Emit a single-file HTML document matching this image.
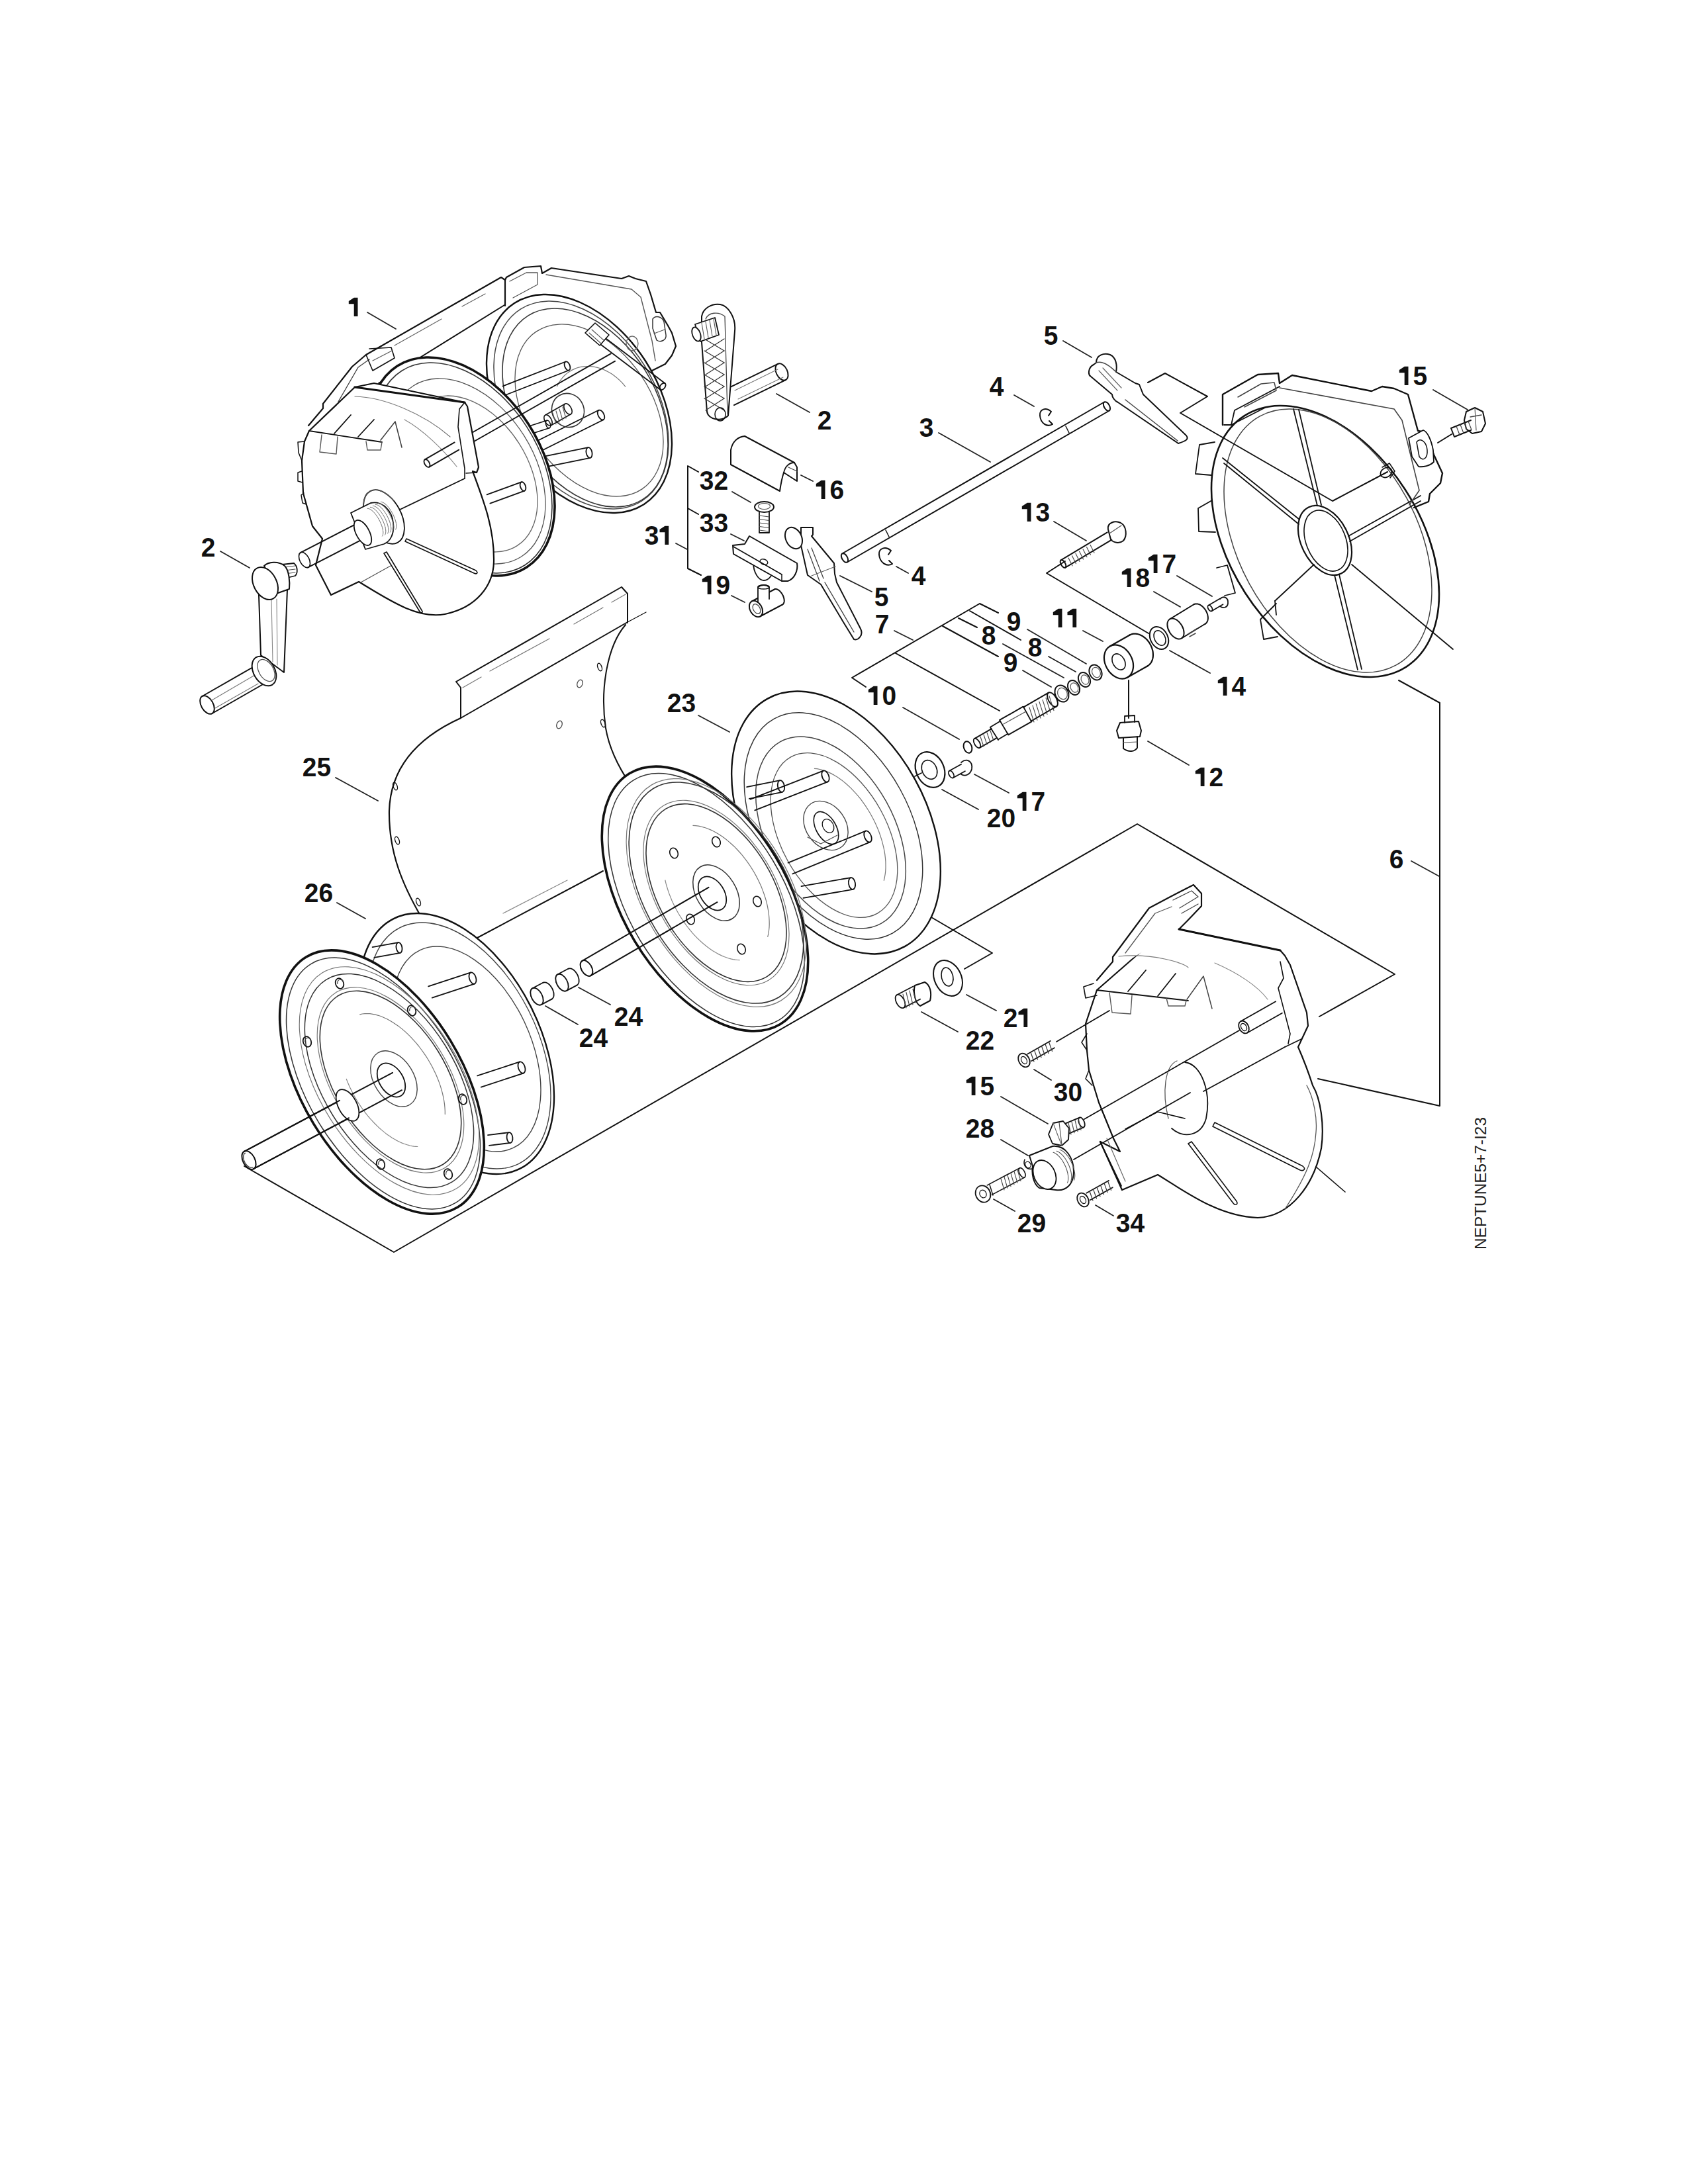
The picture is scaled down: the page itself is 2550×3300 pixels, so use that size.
<!DOCTYPE html>
<html><head><meta charset="utf-8"><style>
html,body{margin:0;padding:0;background:#fff;}
svg{display:block;}
.lb{font-family:"Liberation Sans",sans-serif;font-weight:bold;font-size:41px;fill:#111;}
</style></head><body>
<svg width="2550" height="3300" viewBox="0 0 2550 3300" stroke-linecap="round">
<rect width="2550" height="3300" fill="#fff"/>
<path d="M526.8,455.0 L534.8,449.7 L540.5,449.7 L540.5,478.0 L534.7,478.0 L534.7,459.3 L526.8,459.3 Z" fill="#111"/>
<text x="1299.8" y="649" class="lb" transform="scale(0.95,1)">2</text>
<text x="1659.8" y="521" class="lb" transform="scale(0.95,1)">5</text>
<text x="1573.5" y="598" class="lb" transform="scale(0.95,1)">4</text>
<path d="M2113.8,559.0 L2121.8,553.7 L2127.5,553.7 L2127.5,582.0 L2121.7,582.0 L2121.7,563.3 L2113.8,563.3 Z" fill="#111"/>
<text x="2246.8" y="582" class="lb" transform="scale(0.95,1)">5</text>
<text x="1461.9" y="660" class="lb" transform="scale(0.95,1)">3</text>
<text x="1112.4" y="740" class="lb" transform="scale(0.95,1)">3</text>
<text x="1135.2" y="740" class="lb" transform="scale(0.95,1)">2</text>
<path d="M1232.8,731.0 L1240.8,725.7 L1246.5,725.7 L1246.5,754.0 L1240.7,754.0 L1240.7,735.3 L1232.8,735.3 Z" fill="#111"/>
<text x="1319.4" y="754" class="lb" transform="scale(0.95,1)">6</text>
<path d="M1543.8,765.0 L1551.8,759.7 L1557.5,759.7 L1557.5,788.0 L1551.7,788.0 L1551.7,769.3 L1543.8,769.3 Z" fill="#111"/>
<text x="1646.8" y="788" class="lb" transform="scale(0.95,1)">3</text>
<text x="1112.4" y="804" class="lb" transform="scale(0.95,1)">3</text>
<text x="1135.2" y="804" class="lb" transform="scale(0.95,1)">3</text>
<text x="1025.1" y="823" class="lb" transform="scale(0.95,1)">3</text>
<path d="M996.5,800.0 L1004.5,794.7 L1010.2,794.7 L1010.2,823.0 L1004.4,823.0 L1004.4,804.3 L996.5,804.3 Z" fill="#111"/>
<text x="319.8" y="841" class="lb" transform="scale(0.95,1)">2</text>
<text x="1449.3" y="884" class="lb" transform="scale(0.95,1)">4</text>
<path d="M1734.8,843.0 L1742.8,837.7 L1748.5,837.7 L1748.5,866.0 L1742.7,866.0 L1742.7,847.3 L1734.8,847.3 Z" fill="#111"/>
<text x="1847.9" y="866" class="lb" transform="scale(0.95,1)">7</text>
<path d="M1694.8,864.0 L1702.8,858.7 L1708.5,858.7 L1708.5,887.0 L1702.7,887.0 L1702.7,868.3 L1694.8,868.3 Z" fill="#111"/>
<text x="1805.7" y="887" class="lb" transform="scale(0.95,1)">8</text>
<path d="M1060.8,875.0 L1068.8,869.7 L1074.5,869.7 L1074.5,898.0 L1068.7,898.0 L1068.7,879.3 L1060.8,879.3 Z" fill="#111"/>
<text x="1138.4" y="898" class="lb" transform="scale(0.95,1)">9</text>
<text x="1390.3" y="916" class="lb" transform="scale(0.95,1)">5</text>
<text x="1600.8" y="953" class="lb" transform="scale(0.95,1)">9</text>
<path d="M1590.8,925.0 L1598.8,919.7 L1604.5,919.7 L1604.5,948.0 L1598.7,948.0 L1598.7,929.3 L1590.8,929.3 Z" fill="#111"/>
<path d="M1612.5,925.0 L1620.5,919.7 L1626.2,919.7 L1626.2,948.0 L1620.4,948.0 L1620.4,929.3 L1612.5,929.3 Z" fill="#111"/>
<text x="1391.4" y="957" class="lb" transform="scale(0.95,1)">7</text>
<text x="1560.8" y="974" class="lb" transform="scale(0.95,1)">8</text>
<text x="1634.5" y="992" class="lb" transform="scale(0.95,1)">8</text>
<text x="1595.6" y="1015" class="lb" transform="scale(0.95,1)">9</text>
<path d="M1839.8,1028.0 L1847.8,1022.7 L1853.5,1022.7 L1853.5,1051.0 L1847.7,1051.0 L1847.7,1032.3 L1839.8,1032.3 Z" fill="#111"/>
<text x="1958.4" y="1051" class="lb" transform="scale(0.95,1)">4</text>
<path d="M1311.8,1042.0 L1319.8,1036.7 L1325.5,1036.7 L1325.5,1065.0 L1319.7,1065.0 L1319.7,1046.3 L1311.8,1046.3 Z" fill="#111"/>
<text x="1402.6" y="1065" class="lb" transform="scale(0.95,1)">0</text>
<text x="1060.8" y="1076" class="lb" transform="scale(0.95,1)">2</text>
<text x="1083.6" y="1076" class="lb" transform="scale(0.95,1)">3</text>
<text x="480.8" y="1173" class="lb" transform="scale(0.95,1)">2</text>
<text x="503.6" y="1173" class="lb" transform="scale(0.95,1)">5</text>
<path d="M1805.8,1165.0 L1813.8,1159.7 L1819.5,1159.7 L1819.5,1188.0 L1813.7,1188.0 L1813.7,1169.3 L1805.8,1169.3 Z" fill="#111"/>
<text x="1922.6" y="1188" class="lb" transform="scale(0.95,1)">2</text>
<path d="M1536.8,1202.0 L1544.8,1196.7 L1550.5,1196.7 L1550.5,1225.0 L1544.7,1225.0 L1544.7,1206.3 L1536.8,1206.3 Z" fill="#111"/>
<text x="1639.4" y="1225" class="lb" transform="scale(0.95,1)">7</text>
<text x="1569.3" y="1250" class="lb" transform="scale(0.95,1)">2</text>
<text x="1592.1" y="1250" class="lb" transform="scale(0.95,1)">0</text>
<text x="2209.3" y="1312" class="lb" transform="scale(0.95,1)">6</text>
<text x="484.0" y="1363" class="lb" transform="scale(0.95,1)">2</text>
<text x="506.8" y="1363" class="lb" transform="scale(0.95,1)">6</text>
<text x="976.6" y="1550" class="lb" transform="scale(0.95,1)">2</text>
<text x="999.4" y="1550" class="lb" transform="scale(0.95,1)">4</text>
<text x="1595.6" y="1552" class="lb" transform="scale(0.95,1)">2</text>
<path d="M1538.5,1529.0 L1546.5,1523.7 L1552.2,1523.7 L1552.2,1552.0 L1546.4,1552.0 L1546.4,1533.3 L1538.5,1533.3 Z" fill="#111"/>
<text x="920.8" y="1582" class="lb" transform="scale(0.95,1)">2</text>
<text x="943.6" y="1582" class="lb" transform="scale(0.95,1)">4</text>
<text x="1535.6" y="1586" class="lb" transform="scale(0.95,1)">2</text>
<text x="1558.4" y="1586" class="lb" transform="scale(0.95,1)">2</text>
<path d="M1459.8,1632.0 L1467.8,1626.7 L1473.5,1626.7 L1473.5,1655.0 L1467.7,1655.0 L1467.7,1636.3 L1459.8,1636.3 Z" fill="#111"/>
<text x="1558.4" y="1655" class="lb" transform="scale(0.95,1)">5</text>
<text x="1675.6" y="1664" class="lb" transform="scale(0.95,1)">3</text>
<text x="1698.4" y="1664" class="lb" transform="scale(0.95,1)">0</text>
<text x="1535.6" y="1719" class="lb" transform="scale(0.95,1)">2</text>
<text x="1558.4" y="1719" class="lb" transform="scale(0.95,1)">8</text>
<text x="1617.7" y="1862" class="lb" transform="scale(0.95,1)">2</text>
<text x="1640.5" y="1862" class="lb" transform="scale(0.95,1)">9</text>
<text x="1774.5" y="1862" class="lb" transform="scale(0.95,1)">3</text>
<text x="1797.3" y="1862" class="lb" transform="scale(0.95,1)">4</text>
<text x="2245" y="1888" transform="rotate(-90 2245 1888)" style="font-family:'Liberation Sans',sans-serif;font-size:24.4px;fill:#222">NEPTUNE5+7-I23</text>
<line x1="555" y1="472" x2="598" y2="497" stroke="#222" stroke-width="1.8"/>
<line x1="1173" y1="595" x2="1223" y2="623" stroke="#222" stroke-width="1.8"/>
<line x1="1606" y1="515" x2="1649" y2="540" stroke="#222" stroke-width="1.8"/>
<line x1="1532" y1="597" x2="1562" y2="614" stroke="#222" stroke-width="1.8"/>
<line x1="2165" y1="589" x2="2217" y2="619" stroke="#222" stroke-width="1.8"/>
<line x1="1418" y1="654" x2="1496" y2="698" stroke="#222" stroke-width="1.8"/>
<line x1="1106" y1="743" x2="1134" y2="759" stroke="#222" stroke-width="1.8"/>
<line x1="1210" y1="718" x2="1228" y2="727" stroke="#222" stroke-width="1.8"/>
<line x1="1592" y1="788" x2="1641" y2="817" stroke="#222" stroke-width="1.8"/>
<line x1="1104" y1="807" x2="1124" y2="817" stroke="#222" stroke-width="1.8"/>
<line x1="1021" y1="821" x2="1038" y2="830" stroke="#222" stroke-width="1.8"/>
<line x1="333" y1="833" x2="377" y2="858" stroke="#222" stroke-width="1.8"/>
<line x1="1354" y1="856" x2="1372" y2="866" stroke="#222" stroke-width="1.8"/>
<line x1="1778" y1="870" x2="1831" y2="901" stroke="#222" stroke-width="1.8"/>
<line x1="1743" y1="894" x2="1783" y2="917" stroke="#222" stroke-width="1.8"/>
<line x1="1105" y1="900" x2="1125" y2="910" stroke="#222" stroke-width="1.8"/>
<line x1="1269" y1="870" x2="1317" y2="894" stroke="#222" stroke-width="1.8"/>
<line x1="1351" y1="953" x2="1379" y2="967" stroke="#222" stroke-width="1.8"/>
<line x1="1552" y1="951" x2="1641" y2="1003" stroke="#222" stroke-width="1.8"/>
<line x1="1584" y1="992" x2="1625" y2="1015" stroke="#222" stroke-width="1.8"/>
<line x1="1515" y1="973" x2="1607" y2="1024" stroke="#222" stroke-width="1.8"/>
<line x1="1545" y1="1013" x2="1588" y2="1038" stroke="#222" stroke-width="1.8"/>
<line x1="1636" y1="953" x2="1666" y2="969" stroke="#222" stroke-width="1.8"/>
<line x1="1767" y1="983" x2="1828" y2="1017" stroke="#222" stroke-width="1.8"/>
<line x1="1364" y1="1069" x2="1449" y2="1117" stroke="#222" stroke-width="1.8"/>
<line x1="1055" y1="1081" x2="1102" y2="1106" stroke="#222" stroke-width="1.8"/>
<line x1="507" y1="1175" x2="571" y2="1210" stroke="#222" stroke-width="1.8"/>
<line x1="1734" y1="1120" x2="1796" y2="1156" stroke="#222" stroke-width="1.8"/>
<line x1="1472" y1="1170" x2="1524" y2="1198" stroke="#222" stroke-width="1.8"/>
<line x1="1423" y1="1193" x2="1478" y2="1223" stroke="#222" stroke-width="1.8"/>
<line x1="2132" y1="1301" x2="2174" y2="1324" stroke="#222" stroke-width="1.8"/>
<line x1="509" y1="1364" x2="552" y2="1388" stroke="#222" stroke-width="1.8"/>
<line x1="874" y1="1492" x2="922" y2="1518" stroke="#222" stroke-width="1.8"/>
<line x1="824" y1="1520" x2="873" y2="1548" stroke="#222" stroke-width="1.8"/>
<line x1="1460" y1="1503" x2="1505" y2="1527" stroke="#222" stroke-width="1.8"/>
<line x1="1392" y1="1529" x2="1447" y2="1559" stroke="#222" stroke-width="1.8"/>
<line x1="1562" y1="1616" x2="1588" y2="1632" stroke="#222" stroke-width="1.8"/>
<line x1="1512" y1="1657" x2="1583" y2="1698" stroke="#222" stroke-width="1.8"/>
<line x1="1512" y1="1722" x2="1553" y2="1746" stroke="#222" stroke-width="1.8"/>
<line x1="1501" y1="1812" x2="1533" y2="1830" stroke="#222" stroke-width="1.8"/>
<line x1="1655" y1="1821" x2="1682" y2="1837" stroke="#222" stroke-width="1.8"/>
<polyline points="1055,713 1039,704 1039,859 1059,869" fill="none" stroke="#111" stroke-width="2" stroke-linejoin="round"/>
<line x1="1039" y1="768" x2="1055" y2="777" stroke="#111" stroke-width="2"/>
<polyline points="1508,926 1480,912 1287,1024 1308,1038" fill="none" stroke="#111" stroke-width="2" stroke-linejoin="round"/>
<line x1="1465" y1="923" x2="1542" y2="967" stroke="#111" stroke-width="2"/>
<line x1="1448" y1="934" x2="1476" y2="948" stroke="#111" stroke-width="2"/>
<line x1="1424" y1="946" x2="1508" y2="992" stroke="#111" stroke-width="2"/>
<line x1="1353" y1="987" x2="1510" y2="1074" stroke="#111" stroke-width="2"/>
<polyline points="2113,1028 2175,1062 2175,1671 1991,1630" fill="none" stroke="#111" stroke-width="2" stroke-linejoin="round"/>
<polyline points="369,1762 595,1892 1718,1245 2107,1472 1993,1536" fill="none" stroke="#111" stroke-width="2" stroke-linejoin="round"/>
<polyline points="1274,1308 1499,1440 1457,1464" fill="none" stroke="#111" stroke-width="2" stroke-linejoin="round"/>
<ellipse cx="1263" cy="1243" rx="214" ry="136" transform="rotate(61 1263 1243)" fill="#fff" stroke="#111" stroke-width="2.4" />
<ellipse cx="1259" cy="1248" rx="185" ry="115" transform="rotate(61 1259 1248)" fill="none" stroke="#333" stroke-width="1.5" />
<ellipse cx="1255" cy="1258" rx="157" ry="96" transform="rotate(61 1255 1258)" fill="none" stroke="#444" stroke-width="1.5" />
<ellipse cx="1260" cy="1262" rx="135" ry="80" transform="rotate(61 1260 1262)" fill="none" stroke="#555" stroke-width="1.3" />
<polyline points="1230.4,1161.3 1234.4,1161.7 1238.5,1162.5 1242.6,1163.6 1246.8,1164.9 1251.1,1166.6 1255.3,1168.6 1259.6,1170.9 1264.0,1173.5 1268.3,1176.4 1272.6,1179.6 1276.8,1183.0 1281.0,1186.7 1285.2,1190.6 1289.2,1194.8 1293.2,1199.1 1297.1,1203.7 1300.9,1208.4 1304.5,1213.4 1308.0,1218.4 1311.4,1223.7 1314.6,1229.0 1317.6,1234.5 1320.5,1240.0 1323.1,1245.6 1325.6,1251.3 1327.9,1257.0 1329.9,1262.7 1331.7,1268.4 1333.3,1274.1 1334.7,1279.8 1335.9,1285.4 1336.8,1290.9 1337.4,1296.3 1337.9,1301.6 1338.0,1306.8 1338.0,1311.9 1337.7,1316.7 1337.1,1321.5 1336.3,1326.0 1335.3,1330.3" fill="none" stroke="#777" stroke-width="1.2" stroke-linejoin="round"/>
<ellipse cx="1247.5" cy="1247.5" rx="40" ry="30" transform="rotate(55 1247.5 1247.5)" fill="none" stroke="#444" stroke-width="1.4" />
<ellipse cx="1248" cy="1251" rx="27" ry="15" transform="rotate(60 1248 1251)" fill="none" stroke="#111" stroke-width="1.6" />
<ellipse cx="1251" cy="1248" rx="11" ry="8" transform="rotate(60 1251 1248)" fill="none" stroke="#111" stroke-width="1.3" />
<polyline points="1220,1265 1240,1275 1265,1262" fill="none" stroke="#555" stroke-width="1.3" stroke-linejoin="round"/>
<line x1="1131.8" y1="1206.8" x2="1181.8" y2="1196.8" stroke="#111" stroke-width="1.8"/>
<line x1="1128.2" y1="1189.2" x2="1178.2" y2="1179.2" stroke="#111" stroke-width="1.8"/>
<ellipse cx="1180" cy="1188" rx="5.0" ry="9" transform="rotate(-11.3 1180 1188)" fill="none" stroke="#111" stroke-width="1.8" />
<line x1="1140.3" y1="1224.4" x2="1250.3" y2="1181.4" stroke="#111" stroke-width="1.8"/>
<line x1="1133.7" y1="1207.6" x2="1243.7" y2="1164.6" stroke="#111" stroke-width="1.8"/>
<ellipse cx="1247" cy="1173" rx="5.0" ry="9" transform="rotate(-21.4 1247 1173)" fill="none" stroke="#111" stroke-width="1.8" />
<line x1="1197.4" y1="1320.3" x2="1314.4" y2="1272.3" stroke="#111" stroke-width="1.8"/>
<line x1="1190.6" y1="1303.7" x2="1307.6" y2="1255.7" stroke="#111" stroke-width="1.8"/>
<ellipse cx="1311" cy="1264" rx="5.0" ry="9" transform="rotate(-22.3 1311 1264)" fill="none" stroke="#111" stroke-width="1.8" />
<line x1="1213.5" y1="1356.9" x2="1288.5" y2="1343.9" stroke="#111" stroke-width="1.8"/>
<line x1="1210.5" y1="1339.1" x2="1285.5" y2="1326.1" stroke="#111" stroke-width="1.8"/>
<ellipse cx="1287" cy="1335" rx="5.0" ry="9" transform="rotate(-9.8 1287 1335)" fill="none" stroke="#111" stroke-width="1.8" />
<polyline points="696,1085 696,1039 689,1030 939,887 948,897 948,941" fill="none" stroke="#111" stroke-width="2" stroke-linejoin="round"/>
<line x1="696" y1="1085" x2="948" y2="940" stroke="#111" stroke-width="2"/>
<line x1="948" y1="940" x2="976" y2="925" stroke="#111" stroke-width="1.3"/>
<line x1="740" y1="1014" x2="830" y2="965" stroke="#777" stroke-width="1.2"/>
<line x1="867" y1="943" x2="911" y2="918" stroke="#777" stroke-width="1.2"/>
<line x1="924" y1="910" x2="945" y2="898" stroke="#777" stroke-width="1.2"/>
<line x1="699" y1="1039" x2="727" y2="1023" stroke="#777" stroke-width="1.2"/>
<path d="M696,1085 C630,1115 590,1160 588,1225 C587,1290 610,1340 636,1385" fill="none" stroke="#111" stroke-width="2.2" stroke-linejoin="round" stroke-linecap="round"/>
<path d="M945,944 C918,975 906,1040 915,1100 C920,1130 935,1160 952,1185" fill="none" stroke="#111" stroke-width="2" stroke-linejoin="round" stroke-linecap="round"/>
<line x1="721" y1="1417" x2="911" y2="1316" stroke="#111" stroke-width="2"/>
<line x1="760" y1="1380" x2="857" y2="1330" stroke="#888" stroke-width="1.2"/>
<ellipse cx="597" cy="1188" rx="3" ry="6" transform="rotate(-20 597 1188)" fill="none" stroke="#111" stroke-width="1.4" />
<ellipse cx="600" cy="1270" rx="3" ry="6" transform="rotate(-20 600 1270)" fill="none" stroke="#111" stroke-width="1.4" />
<ellipse cx="632" cy="1363" rx="3" ry="6" transform="rotate(-20 632 1363)" fill="none" stroke="#111" stroke-width="1.4" />
<ellipse cx="906" cy="1008" rx="3" ry="6" transform="rotate(-20 906 1008)" fill="none" stroke="#111" stroke-width="1.4" />
<ellipse cx="911" cy="1093" rx="3" ry="6" transform="rotate(-20 911 1093)" fill="none" stroke="#111" stroke-width="1.4" />
<ellipse cx="876" cy="1033" rx="4" ry="6" transform="rotate(20 876 1033)" fill="none" stroke="#444" stroke-width="1.3" />
<ellipse cx="845" cy="1095" rx="4" ry="6" transform="rotate(20 845 1095)" fill="none" stroke="#444" stroke-width="1.3" />
<ellipse cx="1065" cy="1358" rx="221" ry="124" transform="rotate(59 1065 1358)" fill="#fff" stroke="#111" stroke-width="3.6" />
<ellipse cx="1067" cy="1360" rx="212" ry="117" transform="rotate(59 1067 1360)" fill="none" stroke="#333" stroke-width="1.5" />
<ellipse cx="1082" cy="1349" rx="190" ry="110" transform="rotate(59 1082 1349)" fill="none" stroke="#777" stroke-width="1.2" />
<ellipse cx="1082" cy="1349" rx="184" ry="107" transform="rotate(59 1082 1349)" fill="none" stroke="#333" stroke-width="1.6" />
<ellipse cx="1082" cy="1349" rx="154" ry="89" transform="rotate(59 1082 1349)" fill="none" stroke="#777" stroke-width="1.2" />
<ellipse cx="1082" cy="1349" rx="148" ry="86" transform="rotate(59 1082 1349)" fill="none" stroke="#333" stroke-width="1.6" />
<polyline points="1046.9,1247.3 1051.0,1247.6 1055.2,1248.1 1059.6,1249.0 1064.0,1250.3 1068.4,1251.8 1072.9,1253.6 1077.5,1255.8 1082.0,1258.2 1086.6,1261.0 1091.1,1264.0 1095.6,1267.3 1100.0,1270.9 1104.4,1274.7 1108.8,1278.7 1113.0,1283.0 1117.2,1287.5 1121.2,1292.2 1125.1,1297.1 1128.9,1302.1 1132.5,1307.3 1135.9,1312.6 1139.2,1318.0 1142.3,1323.6 1145.2,1329.2 1147.9,1334.9 1150.4,1340.6 1152.6,1346.4 1154.7,1352.2 1156.5,1357.9 1158.1,1363.6 1159.4,1369.3 1160.4,1374.9 1161.3,1380.5 1161.8,1385.9 1162.1,1391.2 1162.2,1396.4 1162.0,1401.4 1161.5,1406.3 1160.8,1410.9 1159.8,1415.4" fill="none" stroke="#777" stroke-width="1.2" stroke-linejoin="round"/>
<polyline points="1117.1,1450.7 1114.0,1450.5 1110.7,1450.2 1107.4,1449.6 1104.1,1448.9 1100.7,1448.0 1097.3,1446.8 1093.8,1445.5 1090.4,1444.1 1086.9,1442.4 1083.4,1440.6 1079.9,1438.5 1076.4,1436.4 1072.9,1434.0 1069.4,1431.5 1066.0,1428.8 1062.6,1426.0 1059.2,1423.0 1055.9,1419.9 1052.6,1416.7 1049.4,1413.3 1046.2,1409.8 1043.1,1406.2 1040.1,1402.5 1037.1,1398.6 1034.3,1394.7 1031.5,1390.7 1028.9,1386.6 1026.3,1382.5 1023.8,1378.3 1021.5,1374.0 1019.2,1369.7 1017.1,1365.3 1015.1,1360.9 1013.3,1356.5 1011.5,1352.1 1009.9,1347.6 1008.5,1343.2 1007.1,1338.8 1005.9,1334.4 1004.9,1330.0" fill="none" stroke="#888" stroke-width="1.2" stroke-linejoin="round"/>
<ellipse cx="1018" cy="1289" rx="6" ry="8" transform="rotate(-20 1018 1289)" fill="none" stroke="#111" stroke-width="1.6" />
<ellipse cx="1082" cy="1272" rx="6" ry="8" transform="rotate(-20 1082 1272)" fill="none" stroke="#111" stroke-width="1.6" />
<ellipse cx="1144" cy="1362" rx="6" ry="8" transform="rotate(-20 1144 1362)" fill="none" stroke="#111" stroke-width="1.6" />
<ellipse cx="1120" cy="1434" rx="6" ry="8" transform="rotate(-20 1120 1434)" fill="none" stroke="#111" stroke-width="1.6" />
<ellipse cx="1043" cy="1389" rx="6" ry="8" transform="rotate(-20 1043 1389)" fill="none" stroke="#111" stroke-width="1.6" />
<ellipse cx="1082" cy="1349" rx="46" ry="30" transform="rotate(58 1082 1349)" fill="none" stroke="#333" stroke-width="1.5" />
<ellipse cx="1076" cy="1350" rx="28" ry="18" transform="rotate(58 1076 1350)" fill="none" stroke="#111" stroke-width="1.7" />
<line x1="892.5" y1="1474.2" x2="1083.5" y2="1363.2" stroke="#111" stroke-width="2"/>
<line x1="879.5" y1="1451.8" x2="1070.5" y2="1340.8" stroke="#111" stroke-width="2"/>
<ellipse cx="886" cy="1463" rx="7.8" ry="13" transform="rotate(-30.2 886 1463)" fill="none" stroke="#111" stroke-width="2" />
<ellipse cx="690" cy="1577" rx="211.6" ry="125.1" transform="rotate(63.09 690 1577)" fill="#fff" stroke="#111" stroke-width="2.4"/>
<ellipse cx="694" cy="1580" rx="199.7" ry="117.3" transform="rotate(63.28 694 1580)" fill="none" stroke="#444" stroke-width="1.4"/>
<ellipse cx="705" cy="1585" rx="165.2" ry="96.3" transform="rotate(64.79 705 1585)" fill="none" stroke="#444" stroke-width="1.4"/>
<line x1="565.4" y1="1446.9" x2="604.4" y2="1439.9" stroke="#111" stroke-width="1.8"/>
<line x1="562.6" y1="1431.1" x2="601.6" y2="1424.1" stroke="#111" stroke-width="1.8"/>
<ellipse cx="603" cy="1432" rx="4.4" ry="8" transform="rotate(-10.2 603 1432)" fill="none" stroke="#111" stroke-width="1.8" />
<line x1="652.8" y1="1507.6" x2="716.8" y2="1486.6" stroke="#111" stroke-width="1.8"/>
<line x1="647.2" y1="1490.4" x2="711.2" y2="1469.4" stroke="#111" stroke-width="1.8"/>
<ellipse cx="714" cy="1478" rx="5.0" ry="9" transform="rotate(-18.2 714 1478)" fill="none" stroke="#111" stroke-width="1.8" />
<line x1="726.8" y1="1642.6" x2="790.8" y2="1621.6" stroke="#111" stroke-width="1.8"/>
<line x1="721.2" y1="1625.4" x2="785.2" y2="1604.4" stroke="#111" stroke-width="1.8"/>
<ellipse cx="788" cy="1613" rx="5.0" ry="9" transform="rotate(-18.2 788 1613)" fill="none" stroke="#111" stroke-width="1.8" />
<line x1="739.0" y1="1730.9" x2="771.0" y2="1726.9" stroke="#111" stroke-width="1.8"/>
<line x1="737.0" y1="1715.1" x2="769.0" y2="1711.1" stroke="#111" stroke-width="1.8"/>
<ellipse cx="770" cy="1719" rx="4.4" ry="8" transform="rotate(-7.1 770 1719)" fill="none" stroke="#111" stroke-width="1.8" />
<ellipse cx="577" cy="1635" rx="221" ry="121" transform="rotate(58.8 577 1635)" fill="#fff" stroke="#111" stroke-width="3.6" />
<ellipse cx="579" cy="1637" rx="211" ry="114" transform="rotate(58.8 579 1637)" fill="none" stroke="#333" stroke-width="1.5" />
<ellipse cx="588" cy="1633" rx="192" ry="106" transform="rotate(58 588 1633)" fill="none" stroke="#777" stroke-width="1.2" />
<ellipse cx="588" cy="1633" rx="180" ry="100" transform="rotate(58 588 1633)" fill="none" stroke="#333" stroke-width="1.5" />
<ellipse cx="590" cy="1632" rx="156" ry="87" transform="rotate(58 590 1632)" fill="none" stroke="#777" stroke-width="1.2" />
<ellipse cx="590" cy="1632" rx="150" ry="84" transform="rotate(58 590 1632)" fill="none" stroke="#333" stroke-width="1.6" />
<polyline points="543.7,1532.8 547.3,1532.0 551.0,1531.6 554.9,1531.5 558.9,1531.7 563.0,1532.3 567.2,1533.2 571.5,1534.3 575.9,1535.8 580.3,1537.7 584.8,1539.8 589.2,1542.2 593.7,1544.9 598.2,1547.9 602.7,1551.1 607.2,1554.6 611.6,1558.4 615.9,1562.4 620.2,1566.6 624.3,1571.1 628.4,1575.7 632.4,1580.5 636.2,1585.5 639.9,1590.6 643.5,1595.9 646.9,1601.2 650.1,1606.7 653.1,1612.3 655.9,1617.9 658.6,1623.5 661.0,1629.2 663.2,1634.9 665.2,1640.6 666.9,1646.3 668.4,1651.9 669.7,1657.5 670.7,1662.9 671.5,1668.3 672.0,1673.5 672.3,1678.7 672.3,1683.6" fill="none" stroke="#777" stroke-width="1.2" stroke-linejoin="round"/>
<polyline points="630.8,1732.5 628.0,1732.3 625.2,1732.1 622.3,1731.6 619.4,1731.0 616.5,1730.2 613.5,1729.3 610.4,1728.3 607.4,1727.1 604.3,1725.7 601.2,1724.2 598.1,1722.6 595.0,1720.8 591.9,1718.9 588.8,1716.8 585.7,1714.7 582.6,1712.4 579.5,1709.9 576.5,1707.4 573.4,1704.7 570.4,1701.9 567.5,1699.0 564.5,1696.0 561.7,1692.9 558.8,1689.8 556.0,1686.5 553.3,1683.1 550.6,1679.7 548.0,1676.2 545.5,1672.6 543.1,1669.0 540.7,1665.3 538.4,1661.5 536.2,1657.7 534.0,1653.9 532.0,1650.0 530.1,1646.1 528.2,1642.2 526.5,1638.3 524.8,1634.3 523.3,1630.4" fill="none" stroke="#888" stroke-width="1.2" stroke-linejoin="round"/>
<ellipse cx="513" cy="1486" rx="6" ry="8" transform="rotate(-20 513 1486)" fill="none" stroke="#111" stroke-width="1.8" />
<polyline points="509.8,1486.4 509.7,1485.9 509.7,1485.5 509.7,1485.1 509.8,1484.7 509.8,1484.4 509.9,1484.0 510.0,1483.6 510.1,1483.3 510.2,1482.9 510.3,1482.6 510.5,1482.3 510.7,1482.0 510.9,1481.7 511.1,1481.5 511.3,1481.2 511.5,1481.0 511.8,1480.8 512.1,1480.7 512.3,1480.5 512.6,1480.4 512.9,1480.3 513.2,1480.3 513.5,1480.2 513.8,1480.2 514.1,1480.2 514.4,1480.2 514.8,1480.3 515.1,1480.4 515.4,1480.5 515.7,1480.6 516.1,1480.8 516.4,1481.0 516.7,1481.2 517.0,1481.4 517.3,1481.6 517.6,1481.9 517.8,1482.2 518.1,1482.5 518.4,1482.8 518.6,1483.1" fill="none" stroke="#444" stroke-width="1.2" stroke-linejoin="round"/>
<ellipse cx="464" cy="1574" rx="6" ry="8" transform="rotate(-20 464 1574)" fill="none" stroke="#111" stroke-width="1.8" />
<polyline points="460.8,1574.4 460.7,1573.9 460.7,1573.5 460.7,1573.1 460.8,1572.7 460.8,1572.4 460.9,1572.0 461.0,1571.6 461.1,1571.3 461.2,1570.9 461.3,1570.6 461.5,1570.3 461.7,1570.0 461.9,1569.7 462.1,1569.5 462.3,1569.2 462.5,1569.0 462.8,1568.8 463.1,1568.7 463.3,1568.5 463.6,1568.4 463.9,1568.3 464.2,1568.3 464.5,1568.2 464.8,1568.2 465.1,1568.2 465.4,1568.2 465.8,1568.3 466.1,1568.4 466.4,1568.5 466.7,1568.6 467.1,1568.8 467.4,1569.0 467.7,1569.2 468.0,1569.4 468.3,1569.6 468.6,1569.9 468.8,1570.2 469.1,1570.5 469.4,1570.8 469.6,1571.1" fill="none" stroke="#444" stroke-width="1.2" stroke-linejoin="round"/>
<ellipse cx="622" cy="1527" rx="6" ry="8" transform="rotate(-20 622 1527)" fill="none" stroke="#111" stroke-width="1.8" />
<polyline points="618.8,1527.4 618.7,1526.9 618.7,1526.5 618.7,1526.1 618.8,1525.7 618.8,1525.4 618.9,1525.0 619.0,1524.6 619.1,1524.3 619.2,1523.9 619.3,1523.6 619.5,1523.3 619.7,1523.0 619.9,1522.7 620.1,1522.5 620.3,1522.2 620.5,1522.0 620.8,1521.8 621.1,1521.7 621.3,1521.5 621.6,1521.4 621.9,1521.3 622.2,1521.3 622.5,1521.2 622.8,1521.2 623.1,1521.2 623.4,1521.2 623.8,1521.3 624.1,1521.4 624.4,1521.5 624.7,1521.6 625.1,1521.8 625.4,1522.0 625.7,1522.2 626.0,1522.4 626.3,1522.6 626.6,1522.9 626.8,1523.2 627.1,1523.5 627.4,1523.8 627.6,1524.1" fill="none" stroke="#444" stroke-width="1.2" stroke-linejoin="round"/>
<ellipse cx="699" cy="1661" rx="6" ry="8" transform="rotate(-20 699 1661)" fill="none" stroke="#111" stroke-width="1.8" />
<polyline points="695.8,1661.4 695.7,1660.9 695.7,1660.5 695.7,1660.1 695.8,1659.7 695.8,1659.4 695.9,1659.0 696.0,1658.6 696.1,1658.3 696.2,1657.9 696.3,1657.6 696.5,1657.3 696.7,1657.0 696.9,1656.7 697.1,1656.5 697.3,1656.2 697.5,1656.0 697.8,1655.8 698.1,1655.7 698.3,1655.5 698.6,1655.4 698.9,1655.3 699.2,1655.3 699.5,1655.2 699.8,1655.2 700.1,1655.2 700.4,1655.2 700.8,1655.3 701.1,1655.4 701.4,1655.5 701.7,1655.6 702.1,1655.8 702.4,1656.0 702.7,1656.2 703.0,1656.4 703.3,1656.6 703.6,1656.9 703.8,1657.2 704.1,1657.5 704.4,1657.8 704.6,1658.1" fill="none" stroke="#444" stroke-width="1.2" stroke-linejoin="round"/>
<ellipse cx="575" cy="1759" rx="6" ry="8" transform="rotate(-20 575 1759)" fill="none" stroke="#111" stroke-width="1.8" />
<polyline points="571.8,1759.4 571.7,1758.9 571.7,1758.5 571.7,1758.1 571.8,1757.7 571.8,1757.4 571.9,1757.0 572.0,1756.6 572.1,1756.3 572.2,1755.9 572.3,1755.6 572.5,1755.3 572.7,1755.0 572.9,1754.7 573.1,1754.5 573.3,1754.2 573.5,1754.0 573.8,1753.8 574.1,1753.7 574.3,1753.5 574.6,1753.4 574.9,1753.3 575.2,1753.3 575.5,1753.2 575.8,1753.2 576.1,1753.2 576.4,1753.2 576.8,1753.3 577.1,1753.4 577.4,1753.5 577.7,1753.6 578.1,1753.8 578.4,1754.0 578.7,1754.2 579.0,1754.4 579.3,1754.6 579.6,1754.9 579.8,1755.2 580.1,1755.5 580.4,1755.8 580.6,1756.1" fill="none" stroke="#444" stroke-width="1.2" stroke-linejoin="round"/>
<ellipse cx="677" cy="1774" rx="6" ry="8" transform="rotate(-20 677 1774)" fill="none" stroke="#111" stroke-width="1.8" />
<polyline points="673.8,1774.4 673.7,1773.9 673.7,1773.5 673.7,1773.1 673.8,1772.7 673.8,1772.4 673.9,1772.0 674.0,1771.6 674.1,1771.3 674.2,1770.9 674.3,1770.6 674.5,1770.3 674.7,1770.0 674.9,1769.7 675.1,1769.5 675.3,1769.2 675.5,1769.0 675.8,1768.8 676.1,1768.7 676.3,1768.5 676.6,1768.4 676.9,1768.3 677.2,1768.3 677.5,1768.2 677.8,1768.2 678.1,1768.2 678.4,1768.2 678.8,1768.3 679.1,1768.4 679.4,1768.5 679.7,1768.6 680.1,1768.8 680.4,1769.0 680.7,1769.2 681.0,1769.4 681.3,1769.6 681.6,1769.9 681.8,1770.2 682.1,1770.5 682.4,1770.8 682.6,1771.1" fill="none" stroke="#444" stroke-width="1.2" stroke-linejoin="round"/>
<ellipse cx="595" cy="1630" rx="46" ry="30" transform="rotate(58 595 1630)" fill="none" stroke="#444" stroke-width="1.4" />
<ellipse cx="591" cy="1632" rx="28" ry="18" transform="rotate(58 591 1632)" fill="none" stroke="#111" stroke-width="1.8" />
<line x1="383.0" y1="1766.2" x2="607.0" y2="1647.2" stroke="#111" stroke-width="2"/>
<line x1="369.0" y1="1739.8" x2="593.0" y2="1620.8" stroke="#111" stroke-width="2"/>
<ellipse cx="376" cy="1753" rx="9.0" ry="15" transform="rotate(-28.0 376 1753)" fill="none" stroke="#111" stroke-width="2" />
<ellipse cx="525" cy="1670" rx="14" ry="26" transform="rotate(-28 525 1670)" fill="#fff" stroke="#111" stroke-width="1.8" />
<line x1="383.1" y1="1766.2" x2="527.1" y2="1689.2" stroke="#111" stroke-width="2"/>
<line x1="368.9" y1="1739.8" x2="512.9" y2="1662.8" stroke="#111" stroke-width="2"/>
<polyline points="381.6,1763.6 381.1,1763.8 380.6,1764.0 380.0,1764.1 379.4,1764.1 378.8,1764.0 378.2,1763.9 377.6,1763.8 376.9,1763.5 376.3,1763.2 375.6,1762.8 375.0,1762.4 374.3,1761.9 373.7,1761.3 373.1,1760.7 372.4,1760.1 371.9,1759.4 371.3,1758.7 370.8,1757.9 370.3,1757.1 369.8,1756.3 369.4,1755.4 369.0,1754.6 368.7,1753.7 368.4,1752.9 368.1,1752.0 367.9,1751.1 367.8,1750.3 367.7,1749.4 367.6,1748.6 367.6,1747.8 367.7,1747.1 367.8,1746.4 368.0,1745.7 368.2,1745.1 368.4,1744.5 368.7,1743.9 369.1,1743.5 369.5,1743.0 369.9,1742.7 370.4,1742.4" fill="none" stroke="#444" stroke-width="1.4" stroke-linejoin="round"/>
<ellipse cx="2002" cy="818" rx="225.6" ry="143.9" transform="rotate(57.16 2002 818)" fill="none" stroke="#111" stroke-width="2.6"/>
<ellipse cx="2006" cy="817" rx="214.3" ry="135.3" transform="rotate(61.38 2006 817)" fill="none" stroke="#444" stroke-width="1.5"/>
<ellipse cx="2001.5" cy="816.5" rx="55.8" ry="35.8" transform="rotate(63.7 2001.5 816.5)" fill="none" stroke="#111" stroke-width="2.2" />
<ellipse cx="2003" cy="817" rx="48.1" ry="29.8" transform="rotate(68.0 2003 817)" fill="none" stroke="#111" stroke-width="1.6" />
<line x1="1954" y1="618" x2="1990" y2="764" stroke="#111" stroke-width="1.8"/>
<line x1="1962" y1="619" x2="1996" y2="763" stroke="#111" stroke-width="1.8"/>
<line x1="1847" y1="692" x2="1963" y2="785" stroke="#111" stroke-width="1.8"/>
<line x1="1849" y1="700" x2="1962" y2="792" stroke="#111" stroke-width="1.8"/>
<line x1="2037" y1="810" x2="2146" y2="749" stroke="#111" stroke-width="1.8"/>
<line x1="2039" y1="818" x2="2146" y2="757" stroke="#111" stroke-width="1.8"/>
<line x1="1985" y1="853" x2="1926" y2="908" stroke="#111" stroke-width="1.8"/>
<line x1="2016" y1="869" x2="2051" y2="1012" stroke="#111" stroke-width="1.8"/>
<line x1="2023" y1="868" x2="2057" y2="1011" stroke="#111" stroke-width="1.8"/>
<line x1="2042" y1="853" x2="2195" y2="981" stroke="#111" stroke-width="1.8"/>
<line x1="1926" y1="908" x2="1928" y2="929" stroke="#111" stroke-width="1.8"/>
<polyline points="1847,642 1847,596 1900,566 1931,564 1933,579 1952,567 2072,591 2088,584 2106,587 2127,596 2142,651 2153,653 2166,687 2179,715 2176,730 2160,746 2158,758 2136,767" fill="none" stroke="#111" stroke-width="2.4" stroke-linejoin="round"/>
<polyline points="1860,642 1911,616" fill="none" stroke="#111" stroke-width="1.8" stroke-linejoin="round"/>
<polyline points="1933,586 2106,618 2118,635 2144,741 2129,763" fill="none" stroke="#444" stroke-width="1.6" stroke-linejoin="round"/>
<polyline points="1849,642 1860,642 1865,620 1933,584" fill="none" stroke="#111" stroke-width="1.8" stroke-linejoin="round"/>
<polyline points="1870,600 1905,580 1925,578 1928,590 1880,615" fill="none" stroke="#444" stroke-width="1.5" stroke-linejoin="round"/>
<path d="M2128,662 L2150,650 C2156,652 2162,664 2165,680 L2166,698 C2160,704 2150,706 2143,705 L2133,690 Z" fill="#fff" stroke="#111" stroke-width="1.8" stroke-linejoin="round" stroke-linecap="round"/>
<path d="M2140,668 C2146,660 2155,668 2156,680 C2157,692 2150,698 2144,690 Z" fill="none" stroke="#111" stroke-width="1.5" stroke-linejoin="round" stroke-linecap="round"/>
<polyline points="1835,668 1812,672 1806,716 1830,718" fill="none" stroke="#111" stroke-width="1.8" stroke-linejoin="round"/>
<polyline points="1831,756 1810,768 1811,803 1836,804" fill="none" stroke="#111" stroke-width="1.8" stroke-linejoin="round"/>
<polyline points="1838,858 1854,854 1866,896 1850,900" fill="none" stroke="#111" stroke-width="1.8" stroke-linejoin="round"/>
<polyline points="1928,912 1904,936 1909,966 1930,962" fill="none" stroke="#111" stroke-width="1.8" stroke-linejoin="round"/>
<ellipse cx="2094" cy="714" rx="9" ry="7" transform="rotate(-30 2094 714)" fill="none" stroke="#111" stroke-width="1.8" />
<polyline points="2088,706 2099,700 2107,712 2100,722" fill="none" stroke="#111" stroke-width="1.5" stroke-linejoin="round"/>
<polyline points="1734,578 1760,564 1824,599 1783,624 2013,757 2096,713" fill="none" stroke="#111" stroke-width="2" stroke-linejoin="round"/>
<line x1="1279.8" y1="849.5" x2="1675.8" y2="620.5" stroke="#111" stroke-width="2"/>
<line x1="1272.2" y1="836.5" x2="1668.2" y2="607.5" stroke="#111" stroke-width="2"/>
<ellipse cx="1276" cy="843" rx="4.1" ry="7.5" transform="rotate(-30.0 1276 843)" fill="none" stroke="#111" stroke-width="2" />
<ellipse cx="1672" cy="614" rx="4.1" ry="7.5" transform="rotate(-30.0 1672 614)" fill="none" stroke="#111" stroke-width="2" />
<line x1="1338" y1="801" x2="1343" y2="811" stroke="#111" stroke-width="1.5"/>
<line x1="1610" y1="644" x2="1615" y2="654" stroke="#111" stroke-width="1.5"/>
<path d="M1588,622 C1580,615 1570,618 1571,628 C1572,640 1582,646 1590,641 M1588,622 L1584,628 M1590,641 L1585,636" fill="none" stroke="#111" stroke-width="2" stroke-linejoin="round" stroke-linecap="round"/>
<path d="M1346,832 C1338,825 1327,828 1328,838 C1329,850 1339,857 1348,852 M1346,832 L1342,838 M1348,852 L1343,847" fill="none" stroke="#111" stroke-width="2" stroke-linejoin="round" stroke-linecap="round"/>
<path d="M1656,548 C1656,536 1668,533 1677,536 C1686,540 1688,552 1686,562 L1715,579 L1721,581 L1727,596 L1792,658 C1796,663 1793,666 1780,670 L1689,608 C1684,606 1680,600 1680,596 L1648,569 C1643,566 1644,555 1652,551 Z" fill="none" stroke="#111" stroke-width="2" stroke-linejoin="round" stroke-linecap="round"/>
<line x1="1700" y1="604" x2="1779" y2="666" stroke="#444" stroke-width="1.5"/>
<path d="M1656,548 C1664,545 1674,550 1686,562" fill="none" stroke="#444" stroke-width="1.5" stroke-linejoin="round" stroke-linecap="round"/>
<line x1="1660" y1="560" x2="1688" y2="590" stroke="#666" stroke-width="1.2"/>
<line x1="1666" y1="556" x2="1694" y2="586" stroke="#666" stroke-width="1.2"/>
<path d="M2215,622 L2228,616 L2240,622 L2244,640 L2238,652 L2224,655 L2215,648 L2212,635 Z" fill="none" stroke="#111" stroke-width="2" stroke-linejoin="round" stroke-linecap="round"/>
<line x1="2221" y1="630" x2="2238" y2="627" stroke="#444" stroke-width="1.3"/>
<line x1="2228" y1="616" x2="2230" y2="650" stroke="#555" stroke-width="1.2"/>
<polyline points="2222,635 2192,647 2197,660 2222,650" fill="none" stroke="#111" stroke-width="2" stroke-linejoin="round"/>
<line x1="2200" y1="644.0" x2="2205" y2="657.0" stroke="#444" stroke-width="1.2"/>
<line x1="2206" y1="641.5" x2="2211" y2="654.5" stroke="#444" stroke-width="1.2"/>
<line x1="2212" y1="639.0" x2="2217" y2="652.0" stroke="#444" stroke-width="1.2"/>
<line x1="2218" y1="636.5" x2="2223" y2="649.5" stroke="#444" stroke-width="1.2"/>
<line x1="2172" y1="669" x2="2193" y2="656" stroke="#111" stroke-width="2"/>
<polyline points="1609,848 1581,866 1735,957" fill="none" stroke="#111" stroke-width="2" stroke-linejoin="round"/>
<path d="M1674,800 C1672,790 1684,786 1693,790 C1702,795 1703,810 1697,817 C1691,822 1682,820 1678,815 Z" fill="none" stroke="#111" stroke-width="2" stroke-linejoin="round" stroke-linecap="round"/>
<line x1="1676" y1="806" x2="1694" y2="794" stroke="#555" stroke-width="1.3"/>
<line x1="1609.3" y1="857.6" x2="1679.3" y2="815.6" stroke="#111" stroke-width="2"/>
<line x1="1602.7" y1="846.4" x2="1672.7" y2="804.4" stroke="#111" stroke-width="2"/>
<ellipse cx="1606" cy="852" rx="3.2" ry="6.5" transform="rotate(-31.0 1606 852)" fill="none" stroke="#111" stroke-width="2" />
<line x1="1614.0" y1="843.0" x2="1620.0" y2="855.0" stroke="#444" stroke-width="1.1"/>
<line x1="1619.5" y1="839.7" x2="1625.5" y2="851.7" stroke="#444" stroke-width="1.1"/>
<line x1="1625.0" y1="836.4" x2="1631.0" y2="848.4" stroke="#444" stroke-width="1.1"/>
<line x1="1630.5" y1="833.1" x2="1636.5" y2="845.1" stroke="#444" stroke-width="1.1"/>
<line x1="1636.0" y1="829.8" x2="1642.0" y2="841.8" stroke="#444" stroke-width="1.1"/>
<line x1="1641.5" y1="826.5" x2="1647.5" y2="838.5" stroke="#444" stroke-width="1.1"/>
<line x1="1647.0" y1="823.2" x2="1653.0" y2="835.2" stroke="#444" stroke-width="1.1"/>
<path d="M1843,905 C1848,900 1856,902 1855,912 C1854,918 1848,920 1843,916" fill="none" stroke="#111" stroke-width="1.8" stroke-linejoin="round" stroke-linecap="round"/>
<line x1="1830.5" y1="923.3" x2="1847.5" y2="913.3" stroke="#111" stroke-width="1.8"/>
<line x1="1825.5" y1="914.7" x2="1842.5" y2="904.7" stroke="#111" stroke-width="1.8"/>
<ellipse cx="1828" cy="919" rx="2.8" ry="5" transform="rotate(-30.5 1828 919)" fill="none" stroke="#111" stroke-width="1.8" />
<line x1="1784.9" y1="964.5" x2="1820.9" y2="942.5" stroke="#111" stroke-width="2"/>
<line x1="1767.1" y1="935.5" x2="1803.1" y2="913.5" stroke="#111" stroke-width="2"/>
<ellipse cx="1776" cy="950" rx="10.5" ry="17" transform="rotate(-31.4 1776 950)" fill="none" stroke="#111" stroke-width="2" />
<polyline points="1803.2,913.4 1804.0,913.0 1804.8,912.7 1805.7,912.5 1806.6,912.4 1807.5,912.4 1808.5,912.4 1809.5,912.6 1810.5,912.9 1811.5,913.2 1812.5,913.7 1813.5,914.2 1814.5,914.9 1815.5,915.6 1816.4,916.3 1817.4,917.2 1818.3,918.1 1819.1,919.1 1819.9,920.1 1820.7,921.2 1821.4,922.3 1822.1,923.5 1822.7,924.7 1823.2,925.9 1823.7,927.1 1824.1,928.3 1824.4,929.6 1824.6,930.8 1824.8,932.0 1824.9,933.2 1824.9,934.3 1824.8,935.4 1824.6,936.5 1824.4,937.5 1824.1,938.4 1823.7,939.3 1823.2,940.1 1822.7,940.8 1822.1,941.5 1821.5,942.1 1820.8,942.6" fill="none" stroke="#111" stroke-width="2" stroke-linejoin="round"/>
<line x1="1795" y1="958" x2="1808" y2="950" stroke="#444" stroke-width="1.5"/>
<line x1="1797" y1="962" x2="1806" y2="957" stroke="#444" stroke-width="1.5"/>
<ellipse cx="1751" cy="964" rx="13" ry="18" transform="rotate(-28 1751 964)" fill="none" stroke="#111" stroke-width="2" />
<ellipse cx="1752" cy="964" rx="8" ry="12" transform="rotate(-28 1752 964)" fill="none" stroke="#111" stroke-width="1.6" />
<line x1="1703.3" y1="1023.5" x2="1733.3" y2="1006.5" stroke="#111" stroke-width="2.2"/>
<line x1="1676.7" y1="976.5" x2="1706.7" y2="959.5" stroke="#111" stroke-width="2.2"/>
<ellipse cx="1690" cy="1000" rx="20.2" ry="27" transform="rotate(-29.5 1690 1000)" fill="none" stroke="#111" stroke-width="2.2" />
<polyline points="1706.5,959.6 1707.9,958.9 1709.4,958.3 1710.9,957.9 1712.5,957.7 1714.2,957.6 1715.8,957.6 1717.5,957.8 1719.3,958.2 1721.0,958.7 1722.7,959.4 1724.4,960.2 1726.1,961.2 1727.7,962.3 1729.3,963.5 1730.8,964.8 1732.3,966.3 1733.7,967.8 1735.0,969.5 1736.2,971.2 1737.3,973.0 1738.3,974.9 1739.2,976.8 1740.0,978.7 1740.6,980.7 1741.2,982.7 1741.6,984.7 1741.8,986.7 1741.9,988.7 1741.9,990.6 1741.8,992.5 1741.5,994.3 1741.1,996.0 1740.6,997.7 1739.9,999.3 1739.1,1000.8 1738.2,1002.1 1737.2,1003.4 1736.0,1004.5 1734.8,1005.5 1733.5,1006.4" fill="none" stroke="#111" stroke-width="2.2" stroke-linejoin="round"/>
<ellipse cx="1690" cy="1000" rx="9" ry="13" transform="rotate(-30 1690 1000)" fill="none" stroke="#111" stroke-width="1.6" />
<line x1="1705" y1="1028" x2="1705" y2="1085" stroke="#111" stroke-width="2"/>
<path d="M1692,1092 L1720,1090 L1724,1104 L1722,1113 L1690,1115 L1687,1104 Z" fill="none" stroke="#111" stroke-width="2" stroke-linejoin="round" stroke-linecap="round"/>
<path d="M1697,1115 L1697,1131 C1705,1137 1714,1136 1718,1130 L1718,1113" fill="none" stroke="#111" stroke-width="2" stroke-linejoin="round" stroke-linecap="round"/>
<path d="M1699,1092 L1699,1082 L1714,1081 L1714,1091" fill="none" stroke="#111" stroke-width="1.8" stroke-linejoin="round" stroke-linecap="round"/>
<line x1="1697" y1="1122" x2="1718" y2="1121" stroke="#555" stroke-width="1.2"/>
<ellipse cx="1655" cy="1016" rx="9" ry="12" transform="rotate(-25 1655 1016)" fill="none" stroke="#111" stroke-width="2" />
<ellipse cx="1656" cy="1016" rx="6" ry="8" transform="rotate(-25 1656 1016)" fill="none" stroke="#555" stroke-width="1.2" />
<ellipse cx="1638" cy="1027" rx="8.5" ry="11.5" transform="rotate(-25 1638 1027)" fill="none" stroke="#111" stroke-width="2" />
<ellipse cx="1639" cy="1027" rx="5.5" ry="7.5" transform="rotate(-25 1639 1027)" fill="none" stroke="#555" stroke-width="1.2" />
<ellipse cx="1622" cy="1039" rx="8.5" ry="11.5" transform="rotate(-25 1622 1039)" fill="none" stroke="#111" stroke-width="2" />
<ellipse cx="1623" cy="1039" rx="5.5" ry="7.5" transform="rotate(-25 1623 1039)" fill="none" stroke="#555" stroke-width="1.2" />
<ellipse cx="1604" cy="1048" rx="10" ry="13" transform="rotate(-25 1604 1048)" fill="none" stroke="#111" stroke-width="2" />
<ellipse cx="1605" cy="1048" rx="7" ry="9" transform="rotate(-25 1605 1048)" fill="none" stroke="#555" stroke-width="1.2" />
<line x1="1480.0" y1="1129.9" x2="1506.0" y2="1114.9" stroke="#111" stroke-width="1.8"/>
<line x1="1472.0" y1="1116.1" x2="1498.0" y2="1101.1" stroke="#111" stroke-width="1.8"/>
<ellipse cx="1476" cy="1123" rx="4.0" ry="8" transform="rotate(-30.0 1476 1123)" fill="none" stroke="#111" stroke-width="1.8" />
<line x1="1481" y1="1113" x2="1486" y2="1128" stroke="#444" stroke-width="1.1"/>
<line x1="1486" y1="1110" x2="1491" y2="1125" stroke="#444" stroke-width="1.1"/>
<line x1="1491" y1="1107" x2="1496" y2="1122" stroke="#444" stroke-width="1.1"/>
<line x1="1496" y1="1104" x2="1501" y2="1119" stroke="#444" stroke-width="1.1"/>
<line x1="1507.7" y1="1117.4" x2="1522.7" y2="1108.4" stroke="#111" stroke-width="1.8"/>
<line x1="1496.3" y1="1098.6" x2="1511.3" y2="1089.6" stroke="#111" stroke-width="1.8"/>
<polyline points="1496,1099 1508,1118" fill="none" stroke="#111" stroke-width="1.8" stroke-linejoin="round"/>
<line x1="1523.4" y1="1110.3" x2="1558.4" y2="1090.3" stroke="#111" stroke-width="2"/>
<line x1="1510.6" y1="1087.7" x2="1545.6" y2="1067.7" stroke="#111" stroke-width="2"/>
<polyline points="1510,1088 1523,1110" fill="none" stroke="#111" stroke-width="1.8" stroke-linejoin="round"/>
<polyline points="1546,1068 1558,1090" fill="none" stroke="#111" stroke-width="1.8" stroke-linejoin="round"/>
<line x1="1516" y1="1094" x2="1550" y2="1075" stroke="#555" stroke-width="1.2"/>
<line x1="1558.0" y1="1089.4" x2="1596.0" y2="1067.4" stroke="#111" stroke-width="2"/>
<line x1="1546.0" y1="1068.6" x2="1584.0" y2="1046.6" stroke="#111" stroke-width="2"/>
<ellipse cx="1590" cy="1057" rx="6.0" ry="12" transform="rotate(-30.1 1590 1057)" fill="none" stroke="#111" stroke-width="2" />
<line x1="1555" y1="1069.0" x2="1562" y2="1091.0" stroke="#444" stroke-width="1.1"/>
<line x1="1560" y1="1066.1" x2="1567" y2="1088.1" stroke="#444" stroke-width="1.1"/>
<line x1="1565" y1="1063.2" x2="1572" y2="1085.2" stroke="#444" stroke-width="1.1"/>
<line x1="1570" y1="1060.3" x2="1577" y2="1082.3" stroke="#444" stroke-width="1.1"/>
<line x1="1575" y1="1057.4" x2="1582" y2="1079.4" stroke="#444" stroke-width="1.1"/>
<line x1="1580" y1="1054.5" x2="1587" y2="1076.5" stroke="#444" stroke-width="1.1"/>
<line x1="1585" y1="1051.6" x2="1592" y2="1073.6" stroke="#444" stroke-width="1.1"/>
<ellipse cx="1462" cy="1129" rx="6" ry="9" transform="rotate(-20 1462 1129)" fill="none" stroke="#111" stroke-width="2" />
<ellipse cx="1405" cy="1163" rx="21" ry="28" transform="rotate(-25 1405 1163)" fill="none" stroke="#111" stroke-width="2.2" />
<ellipse cx="1404" cy="1163" rx="11" ry="15" transform="rotate(-25 1404 1163)" fill="none" stroke="#111" stroke-width="1.6" />
<line x1="1382" y1="1173" x2="1392" y2="1168" stroke="#111" stroke-width="1.8"/>
<path d="M1452,1152 C1460,1145 1470,1150 1468,1162 C1466,1170 1458,1174 1452,1170" fill="none" stroke="#111" stroke-width="1.8" stroke-linejoin="round" stroke-linecap="round"/>
<line x1="1439.9" y1="1175.2" x2="1457.9" y2="1165.2" stroke="#111" stroke-width="1.8"/>
<line x1="1434.1" y1="1164.8" x2="1452.1" y2="1154.8" stroke="#111" stroke-width="1.8"/>
<ellipse cx="1437" cy="1170" rx="3.3" ry="6" transform="rotate(-29.1 1437 1170)" fill="none" stroke="#111" stroke-width="1.8" />
<polyline points="763,462 763,423 765,419 792,404 817,402 819,413 833,405 939,421 950,417 960,421 976,425 983,445 991,472 997,472 1009,492 1015,503 1021,523 1015,537 1005,550 985,560" fill="#fff" stroke="#111" stroke-width="2.2" stroke-linejoin="round"/>
<polyline points="825,415 954,437 968,449 985,515 990,545" fill="none" stroke="#555" stroke-width="1.4" stroke-linejoin="round"/>
<polyline points="770,425 795,412 812,412 812,430 775,450" fill="none" stroke="#555" stroke-width="1.3" stroke-linejoin="round"/>
<path d="M986,482 C990,476 1000,478 1003,486 L1006,506 C1007,514 998,518 992,514 L986,496 Z" fill="none" stroke="#333" stroke-width="1.5" stroke-linejoin="round" stroke-linecap="round"/>
<line x1="988" y1="504" x2="1004" y2="498" stroke="#555" stroke-width="1.2"/>
<ellipse cx="875" cy="610" rx="180.7" ry="119.1" transform="rotate(57.21 875 610)" fill="#fff" stroke="#111" stroke-width="2.4"/>
<ellipse cx="878" cy="612" rx="171.4" ry="112.7" transform="rotate(57.82 878 612)" fill="none" stroke="#444" stroke-width="1.5"/>
<ellipse cx="884" cy="616" rx="163.6" ry="106.7" transform="rotate(58.28 884 616)" fill="none" stroke="#333" stroke-width="1.6"/>
<ellipse cx="890" cy="620" rx="143.3" ry="94.5" transform="rotate(56.03 890 620)" fill="none" stroke="#555" stroke-width="1.3"/>
<polyline points="841.5,583.8 842.9,581.0 844.3,578.3 845.9,575.8 847.6,573.4 849.5,571.0 851.4,568.8 853.5,566.8 855.6,564.9 857.9,563.1 860.3,561.4 862.7,559.9 865.3,558.6 867.9,557.4 870.6,556.3 873.4,555.4 876.2,554.7 879.1,554.2 882.0,553.8 885.0,553.5 888.0,553.5 891.0,553.5 894.1,553.8 897.1,554.2 900.2,554.8 903.3,555.6 906.3,556.5 909.4,557.5 912.4,558.8 915.4,560.1 918.4,561.7 921.3,563.3 924.2,565.1 927.0,567.1 929.8,569.2 932.5,571.4 935.1,573.7 937.6,576.2 940.1,578.7 942.4,581.4 944.7,584.2" fill="none" stroke="#777" stroke-width="1.2" stroke-linejoin="round"/>
<polyline points="466,643 488,617 488,610 532,554 553,536 757,419 763,423" fill="none" stroke="#111" stroke-width="2.2" stroke-linejoin="round"/>
<polyline points="511,607 541,555 558,543" fill="none" stroke="#444" stroke-width="1.4" stroke-linejoin="round"/>
<line x1="572" y1="579" x2="762" y2="461" stroke="#111" stroke-width="2"/>
<line x1="596" y1="522" x2="667" y2="482" stroke="#666" stroke-width="1.2"/>
<line x1="698" y1="463" x2="733" y2="444" stroke="#666" stroke-width="1.2"/>
<polyline points="558,527 591,525 596,541 563,560 553,536" fill="none" stroke="#111" stroke-width="1.6" stroke-linejoin="round"/>
<polyline points="563,545 592,530" fill="none" stroke="#555" stroke-width="1.2" stroke-linejoin="round"/>
<line x1="764.5" y1="596.5" x2="859.5" y2="559.5" stroke="#111" stroke-width="1.8"/>
<line x1="759.5" y1="583.5" x2="854.5" y2="546.5" stroke="#111" stroke-width="1.8"/>
<ellipse cx="857" cy="553" rx="3.9" ry="7" transform="rotate(-21.3 857 553)" fill="none" stroke="#111" stroke-width="1.8" />
<line x1="815.6" y1="682.2" x2="911.6" y2="634.2" stroke="#111" stroke-width="1.8"/>
<line x1="808.4" y1="667.8" x2="904.4" y2="619.8" stroke="#111" stroke-width="1.8"/>
<ellipse cx="908" cy="627" rx="4.4" ry="8" transform="rotate(-26.6 908 627)" fill="none" stroke="#111" stroke-width="1.8" />
<line x1="827.6" y1="704.8" x2="891.6" y2="691.8" stroke="#111" stroke-width="1.8"/>
<line x1="824.4" y1="689.2" x2="888.4" y2="676.2" stroke="#111" stroke-width="1.8"/>
<ellipse cx="890" cy="684" rx="4.4" ry="8" transform="rotate(-11.5 890 684)" fill="none" stroke="#111" stroke-width="1.8" />
<line x1="801.8" y1="655.7" x2="829.8" y2="646.7" stroke="#111" stroke-width="1.6"/>
<line x1="798.2" y1="644.3" x2="826.2" y2="635.3" stroke="#111" stroke-width="1.6"/>
<ellipse cx="828" cy="641" rx="3.3" ry="6" transform="rotate(-17.8 828 641)" fill="none" stroke="#111" stroke-width="1.6" />
<ellipse cx="858" cy="620" rx="24" ry="26" transform="rotate(-30 858 620)" fill="none" stroke="#333" stroke-width="1.6" />
<line x1="832.4" y1="642.8" x2="862.4" y2="625.8" stroke="#111" stroke-width="1.6"/>
<line x1="823.6" y1="627.2" x2="853.6" y2="610.2" stroke="#111" stroke-width="1.6"/>
<ellipse cx="828" cy="635" rx="5.0" ry="9" transform="rotate(-29.5 828 635)" fill="none" stroke="#111" stroke-width="1.6" />
<ellipse cx="858" cy="618" rx="5.0" ry="9" transform="rotate(-29.5 858 618)" fill="none" stroke="#111" stroke-width="1.6" />
<line x1="835" y1="624" x2="840" y2="641" stroke="#555" stroke-width="1.1"/>
<line x1="840" y1="621" x2="845" y2="638" stroke="#555" stroke-width="1.1"/>
<line x1="845" y1="618" x2="850" y2="635" stroke="#555" stroke-width="1.1"/>
<line x1="850" y1="615" x2="855" y2="632" stroke="#555" stroke-width="1.1"/>
<ellipse cx="955" cy="519" rx="9" ry="11" transform="rotate(0 955 519)" fill="none" stroke="#666" stroke-width="1.3" />
<line x1="889.4" y1="506.8" x2="997.4" y2="588.8" stroke="#111" stroke-width="1.8"/>
<line x1="896.6" y1="497.2" x2="1004.6" y2="579.2" stroke="#111" stroke-width="1.8"/>
<ellipse cx="1001" cy="584" rx="3.6" ry="6" transform="rotate(37.2 1001 584)" fill="none" stroke="#111" stroke-width="1.8" />
<path d="M884,503 L899,488 L920,506 L906,522 Z" fill="#fff" stroke="#111" stroke-width="1.6" stroke-linejoin="round" stroke-linecap="round"/>
<line x1="894" y1="498" x2="912" y2="514" stroke="#555" stroke-width="1.1"/>
<line x1="890" y1="503" x2="908" y2="519" stroke="#555" stroke-width="1.1"/>
<ellipse cx="698" cy="705" rx="180.7" ry="119.1" transform="rotate(57.21 698 705)" fill="#fff" stroke="#111" stroke-width="3.6"/>
<ellipse cx="700" cy="707" rx="173.8" ry="114.1" transform="rotate(57.62 700 707)" fill="none" stroke="#333" stroke-width="1.6"/>
<ellipse cx="706" cy="712" rx="152.7" ry="101.1" transform="rotate(57.84 706 712)" fill="none" stroke="#555" stroke-width="1.3"/>
<ellipse cx="712" cy="716" rx="128.8" ry="85.6" transform="rotate(57.52 712 716)" fill="none" stroke="#666" stroke-width="1.3"/>
<line x1="648.2" y1="705.6" x2="929.2" y2="545.6" stroke="#111" stroke-width="1.8"/>
<line x1="641.8" y1="694.4" x2="922.8" y2="534.4" stroke="#111" stroke-width="1.8"/>
<ellipse cx="645" cy="700" rx="3.6" ry="6.5" transform="rotate(-29.7 645 700)" fill="none" stroke="#111" stroke-width="1.8" />
<path d="M467,651 L536,585 L565,579 L702,608 L706,614 L723,706 L720,714 L714,712 C732,760 747,800 746,849 C745,885 720,918 672,928 C630,936 585,905 542,879 L500,899 L477,854 L487,814 L472,795 L458,745 L456,696 L460,667 Z" fill="#fff" stroke="#111" stroke-width="2.2" stroke-linejoin="round" stroke-linecap="round"/>
<line x1="536" y1="585" x2="702" y2="608" stroke="#111" stroke-width="3.2"/>
<polyline points="702,608 694,618 692,645 702,708 702,723" fill="none" stroke="#111" stroke-width="1.6" stroke-linejoin="round"/>
<line x1="702" y1="723" x2="604" y2="770" stroke="#111" stroke-width="1.8"/>
<line x1="704" y1="715" x2="720" y2="714" stroke="#111" stroke-width="1.4"/>
<polyline points="467,651 577,668" fill="none" stroke="#111" stroke-width="1.8" stroke-linejoin="round"/>
<line x1="505" y1="655" x2="530" y2="627" stroke="#111" stroke-width="1.8"/>
<line x1="541" y1="660" x2="565" y2="634" stroke="#111" stroke-width="1.8"/>
<polyline points="575,665 597,637 607,676" fill="none" stroke="#444" stroke-width="1.6" stroke-linejoin="round"/>
<polyline points="486,657 483,683 508,686 510,660" fill="none" stroke="#555" stroke-width="1.4" stroke-linejoin="round"/>
<polyline points="553,667 555,680 575,680 577,668" fill="none" stroke="#555" stroke-width="1.4" stroke-linejoin="round"/>
<path d="M536,599 C580,600 640,625 680,660" fill="none" stroke="#777" stroke-width="1.2" stroke-linejoin="round" stroke-linecap="round"/>
<path d="M611,634 C640,650 670,680 690,705" fill="none" stroke="#888" stroke-width="1.2" stroke-linejoin="round" stroke-linecap="round"/>
<polyline points="460,667 450,668 451,684 456,696" fill="none" stroke="#111" stroke-width="1.5" stroke-linejoin="round"/>
<polyline points="456,712 450,714 450,727 457,729" fill="none" stroke="#111" stroke-width="1.5" stroke-linejoin="round"/>
<polyline points="459,745 455,748 457,760 463,762" fill="none" stroke="#111" stroke-width="1.5" stroke-linejoin="round"/>
<line x1="648.3" y1="705.6" x2="693.3" y2="679.6" stroke="#111" stroke-width="1.8"/>
<line x1="641.7" y1="694.4" x2="686.7" y2="668.4" stroke="#111" stroke-width="1.8"/>
<ellipse cx="645" cy="700" rx="3.6" ry="6.5" transform="rotate(-30.0 645 700)" fill="none" stroke="#111" stroke-width="1.8" />
<line x1="740.4" y1="760.6" x2="792.4" y2="741.6" stroke="#111" stroke-width="1.8"/>
<line x1="735.6" y1="747.4" x2="787.6" y2="728.4" stroke="#111" stroke-width="1.8"/>
<ellipse cx="790" cy="735" rx="3.9" ry="7" transform="rotate(-20.1 790 735)" fill="none" stroke="#111" stroke-width="1.8" />
<path d="M614,814 L719,862 C723,866 720,868 716,866 L612,818 Z" fill="none" stroke="#111" stroke-width="1.6" stroke-linejoin="round" stroke-linecap="round"/>
<path d="M584,834 L637,922 C640,926 636,927 634,924 L580,836 Z" fill="none" stroke="#111" stroke-width="1.6" stroke-linejoin="round" stroke-linecap="round"/>
<line x1="545" y1="880" x2="590" y2="855" stroke="#555" stroke-width="1.3"/>
<ellipse cx="580" cy="781" rx="26" ry="44" transform="rotate(-28 580 781)" fill="#fff" stroke="#111" stroke-width="1.8" />
<polyline points="551.4,779.2 550.7,776.7 550.2,774.2 549.7,771.8 549.4,769.4 549.2,767.0 549.1,764.7 549.1,762.5 549.3,760.3 549.5,758.2 549.9,756.2 550.4,754.3 551.0,752.4 551.7,750.7 552.5,749.1 553.4,747.6 554.4,746.3 555.5,745.0 556.7,743.9 558.0,743.0 559.3,742.2 560.8,741.5 562.3,741.0 563.9,740.6 565.5,740.4 567.2,740.3 568.9,740.4 570.7,740.6 572.5,741.0 574.4,741.5 576.2,742.2 578.1,743.0 580.0,744.0 581.9,745.1 583.8,746.3 585.6,747.7 587.5,749.2 589.3,750.8 591.1,752.5 592.8,754.3 594.5,756.2" fill="none" stroke="#555" stroke-width="1.2" stroke-linejoin="round"/>
<line x1="465.7" y1="857.1" x2="560.7" y2="808.1" stroke="#111" stroke-width="2"/>
<line x1="454.3" y1="834.9" x2="549.3" y2="785.9" stroke="#111" stroke-width="2"/>
<ellipse cx="460" cy="846" rx="6.2" ry="12.5" transform="rotate(-27.3 460 846)" fill="none" stroke="#111" stroke-width="2" />
<ellipse cx="460" cy="846" rx="7" ry="12.5" transform="rotate(-28 460 846)" fill="#fff" stroke="#111" stroke-width="1.6" />
<path d="M530,775 L560,760 C578,756 592,772 594,790 C596,806 590,818 580,822 L552,830 Z" fill="#fff" stroke="#111" stroke-width="1.8" stroke-linejoin="round" stroke-linecap="round"/>
<polyline points="555.3,768.4 556.0,768.4 556.7,768.5 557.5,768.8 558.4,769.1 559.2,769.5 560.1,770.1 561.0,770.7 561.9,771.4 562.9,772.2 563.8,773.1 564.8,774.1 565.8,775.2 566.7,776.3 567.7,777.5 568.6,778.8 569.5,780.1 570.4,781.5 571.3,782.9 572.1,784.3 572.9,785.8 573.7,787.3 574.4,788.8 575.1,790.3 575.7,791.8 576.3,793.3 576.8,794.8 577.3,796.2 577.7,797.6 578.1,799.0 578.3,800.4 578.5,801.7 578.7,802.9 578.8,804.1 578.8,805.2 578.7,806.2 578.6,807.2 578.4,808.1 578.2,808.8 577.9,809.5 577.5,810.1" fill="none" stroke="#666" stroke-width="1.0" stroke-linejoin="round"/>
<polyline points="559.3,766.4 560.0,766.4 560.7,766.5 561.5,766.8 562.4,767.1 563.2,767.5 564.1,768.1 565.0,768.7 565.9,769.4 566.9,770.2 567.8,771.1 568.8,772.1 569.8,773.2 570.7,774.3 571.7,775.5 572.6,776.8 573.5,778.1 574.4,779.5 575.3,780.9 576.1,782.3 576.9,783.8 577.7,785.3 578.4,786.8 579.1,788.3 579.7,789.8 580.3,791.3 580.8,792.8 581.3,794.2 581.7,795.6 582.1,797.0 582.3,798.4 582.5,799.7 582.7,800.9 582.8,802.1 582.8,803.2 582.7,804.2 582.6,805.2 582.4,806.1 582.2,806.8 581.9,807.5 581.5,808.1" fill="none" stroke="#666" stroke-width="1.0" stroke-linejoin="round"/>
<polyline points="563.3,764.4 564.0,764.4 564.7,764.5 565.5,764.8 566.4,765.1 567.2,765.5 568.1,766.1 569.0,766.7 569.9,767.4 570.9,768.2 571.8,769.1 572.8,770.1 573.8,771.2 574.7,772.3 575.7,773.5 576.6,774.8 577.5,776.1 578.4,777.5 579.3,778.9 580.1,780.3 580.9,781.8 581.7,783.3 582.4,784.8 583.1,786.3 583.7,787.8 584.3,789.3 584.8,790.8 585.3,792.2 585.7,793.6 586.1,795.0 586.3,796.4 586.5,797.7 586.7,798.9 586.8,800.1 586.8,801.2 586.7,802.2 586.6,803.2 586.4,804.1 586.2,804.8 585.9,805.5 585.5,806.1" fill="none" stroke="#666" stroke-width="1.0" stroke-linejoin="round"/>
<polyline points="567.3,762.4 568.0,762.4 568.7,762.5 569.5,762.8 570.4,763.1 571.2,763.5 572.1,764.1 573.0,764.7 573.9,765.4 574.9,766.2 575.8,767.1 576.8,768.1 577.8,769.2 578.7,770.3 579.7,771.5 580.6,772.8 581.5,774.1 582.4,775.5 583.3,776.9 584.1,778.3 584.9,779.8 585.7,781.3 586.4,782.8 587.1,784.3 587.7,785.8 588.3,787.3 588.8,788.8 589.3,790.2 589.7,791.6 590.1,793.0 590.3,794.4 590.5,795.7 590.7,796.9 590.8,798.1 590.8,799.2 590.7,800.2 590.6,801.2 590.4,802.1 590.2,802.8 589.9,803.5 589.5,804.1" fill="none" stroke="#666" stroke-width="1.0" stroke-linejoin="round"/>
<polyline points="571.3,760.4 572.0,760.4 572.7,760.5 573.5,760.8 574.4,761.1 575.2,761.5 576.1,762.1 577.0,762.7 577.9,763.4 578.9,764.2 579.8,765.1 580.8,766.1 581.8,767.2 582.7,768.3 583.7,769.5 584.6,770.8 585.5,772.1 586.4,773.5 587.3,774.9 588.1,776.3 588.9,777.8 589.7,779.3 590.4,780.8 591.1,782.3 591.7,783.8 592.3,785.3 592.8,786.8 593.3,788.2 593.7,789.6 594.1,791.0 594.3,792.4 594.5,793.7 594.7,794.9 594.8,796.1 594.8,797.2 594.7,798.2 594.6,799.2 594.4,800.1 594.2,800.8 593.9,801.5 593.5,802.1" fill="none" stroke="#666" stroke-width="1.0" stroke-linejoin="round"/>
<polyline points="575.3,758.4 576.0,758.4 576.7,758.5 577.5,758.8 578.4,759.1 579.2,759.5 580.1,760.1 581.0,760.7 581.9,761.4 582.9,762.2 583.8,763.1 584.8,764.1 585.8,765.2 586.7,766.3 587.7,767.5 588.6,768.8 589.5,770.1 590.4,771.5 591.3,772.9 592.1,774.3 592.9,775.8 593.7,777.3 594.4,778.8 595.1,780.3 595.7,781.8 596.3,783.3 596.8,784.8 597.3,786.2 597.7,787.6 598.1,789.0 598.3,790.4 598.5,791.7 598.7,792.9 598.8,794.1 598.8,795.2 598.7,796.2 598.6,797.2 598.4,798.1 598.2,798.8 597.9,799.5 597.5,800.1" fill="none" stroke="#666" stroke-width="1.0" stroke-linejoin="round"/>
<ellipse cx="548" cy="805" rx="10" ry="21" transform="rotate(-28 548 805)" fill="#fff" stroke="#111" stroke-width="1.8" />
<line x1="320.5" y1="1078.0" x2="402.5" y2="1031.0" stroke="#111" stroke-width="2"/>
<line x1="305.5" y1="1052.0" x2="387.5" y2="1005.0" stroke="#111" stroke-width="2"/>
<ellipse cx="313" cy="1065" rx="9.0" ry="15" transform="rotate(-29.8 313 1065)" fill="none" stroke="#111" stroke-width="2" />
<line x1="320" y1="1058" x2="385" y2="1020" stroke="#777" stroke-width="1.1"/>
<line x1="325" y1="1070" x2="390" y2="1033" stroke="#777" stroke-width="1.1"/>
<path d="M391,899 L394,990 L429,1016 L434,891 Z" fill="#fff" stroke="#111" stroke-width="2" stroke-linejoin="round" stroke-linecap="round"/>
<line x1="410" y1="905" x2="412" y2="1000" stroke="#888" stroke-width="1.1"/>
<line x1="418" y1="905" x2="419" y2="1005" stroke="#888" stroke-width="1.1"/>
<ellipse cx="399" cy="1014" rx="16" ry="24" transform="rotate(-30 399 1014)" fill="#fff" stroke="#111" stroke-width="2" />
<ellipse cx="402" cy="1013" rx="11" ry="18" transform="rotate(-30 402 1013)" fill="none" stroke="#555" stroke-width="1.3" />
<path d="M426,853 L444,851 C450,856 450,866 446,870 L430,874 Z" fill="#fff" stroke="#111" stroke-width="1.8" stroke-linejoin="round" stroke-linecap="round"/>
<line x1="430" y1="857" x2="446" y2="855" stroke="#555" stroke-width="1.1"/>
<line x1="430" y1="862" x2="446" y2="860" stroke="#555" stroke-width="1.1"/>
<line x1="430" y1="867" x2="446" y2="865" stroke="#555" stroke-width="1.1"/>
<path d="M399,855 C405,849 420,847 430,855 C437,862 438,880 437,890 L420,896 Z" fill="#fff" stroke="#111" stroke-width="2" stroke-linejoin="round" stroke-linecap="round"/>
<ellipse cx="400.5" cy="881.5" rx="26.1" ry="17.3" transform="rotate(62.6 400.5 881.5)" fill="#fff" stroke="#111" stroke-width="2" />
<line x1="1108.9" y1="612.1" x2="1186.9" y2="574.1" stroke="#111" stroke-width="2"/>
<line x1="1097.1" y1="587.9" x2="1175.1" y2="549.9" stroke="#111" stroke-width="2"/>
<ellipse cx="1181" cy="562" rx="8.4" ry="13.5" transform="rotate(-26.0 1181 562)" fill="none" stroke="#111" stroke-width="2" />
<line x1="1110" y1="590" x2="1175" y2="558" stroke="#777" stroke-width="1.1"/>
<line x1="1115" y1="603" x2="1183" y2="570" stroke="#777" stroke-width="1.1"/>
<path d="M1060,517 L1068,622 C1070,634 1090,638 1100,628 L1110,500 C1112,480 1100,462 1088,460 C1075,458 1062,466 1060,478 Z" fill="#fff" stroke="#111" stroke-width="2" stroke-linejoin="round" stroke-linecap="round"/>
<path d="M1066,482 C1070,472 1085,470 1095,478 L1099,626" fill="none" stroke="#444" stroke-width="1.3" stroke-linejoin="round" stroke-linecap="round"/>
<line x1="1064" y1="512" x2="1094" y2="530" stroke="#333" stroke-width="1.3"/>
<line x1="1094" y1="512" x2="1066" y2="530" stroke="#333" stroke-width="1.3"/>
<line x1="1064" y1="530" x2="1094" y2="548" stroke="#333" stroke-width="1.3"/>
<line x1="1094" y1="530" x2="1066" y2="548" stroke="#333" stroke-width="1.3"/>
<line x1="1064" y1="548" x2="1094" y2="566" stroke="#333" stroke-width="1.3"/>
<line x1="1094" y1="548" x2="1066" y2="566" stroke="#333" stroke-width="1.3"/>
<line x1="1064" y1="566" x2="1094" y2="584" stroke="#333" stroke-width="1.3"/>
<line x1="1094" y1="566" x2="1066" y2="584" stroke="#333" stroke-width="1.3"/>
<line x1="1064" y1="584" x2="1094" y2="602" stroke="#333" stroke-width="1.3"/>
<line x1="1094" y1="584" x2="1066" y2="602" stroke="#333" stroke-width="1.3"/>
<line x1="1064" y1="602" x2="1094" y2="620" stroke="#333" stroke-width="1.3"/>
<line x1="1094" y1="602" x2="1066" y2="620" stroke="#333" stroke-width="1.3"/>
<ellipse cx="1088" cy="626" rx="8" ry="10" transform="rotate(0 1088 626)" fill="none" stroke="#111" stroke-width="1.5" />
<path d="M1050,490 L1080,480 L1086,506 L1058,516 Z" fill="#fff" stroke="#111" stroke-width="1.8" stroke-linejoin="round" stroke-linecap="round"/>
<ellipse cx="1052" cy="505" rx="6" ry="11" transform="rotate(-20 1052 505)" fill="#fff" stroke="#111" stroke-width="1.8" />
<line x1="1060" y1="488" x2="1064" y2="512" stroke="#555" stroke-width="1.1"/>
<line x1="1066" y1="486" x2="1070" y2="510" stroke="#555" stroke-width="1.1"/>
<line x1="1072" y1="484" x2="1076" y2="508" stroke="#555" stroke-width="1.1"/>
<line x1="1078" y1="482" x2="1082" y2="506" stroke="#555" stroke-width="1.1"/>
<path d="M1104,702 L1104,680 C1106,668 1114,660 1125,659 L1200,699 L1204,706 L1204,727 L1184,714 C1182,720 1180,728 1178,742 Z" fill="#fff" stroke="#111" stroke-width="2" stroke-linejoin="round" stroke-linecap="round"/>
<path d="M1200,699 C1192,699 1186,705 1184,714" fill="none" stroke="#111" stroke-width="1.8" stroke-linejoin="round" stroke-linecap="round"/>
<line x1="1191" y1="706" x2="1204" y2="712" stroke="#444" stroke-width="1.3"/>
<ellipse cx="1154.5" cy="766" rx="14.5" ry="8" transform="rotate(0 1154.5 766)" fill="#fff" stroke="#111" stroke-width="2" />
<ellipse cx="1154.5" cy="765" rx="9" ry="4.5" transform="rotate(0 1154.5 765)" fill="none" stroke="#555" stroke-width="1.2" />
<path d="M1147,774 L1147,805 L1162,805 L1162,774" fill="none" stroke="#111" stroke-width="1.8" stroke-linejoin="round" stroke-linecap="round"/>
<line x1="1147" y1="779.0" x2="1162" y2="781.0" stroke="#444" stroke-width="1.1"/>
<line x1="1147" y1="784.5" x2="1162" y2="786.5" stroke="#444" stroke-width="1.1"/>
<line x1="1147" y1="790.0" x2="1162" y2="792.0" stroke="#444" stroke-width="1.1"/>
<line x1="1147" y1="795.5" x2="1162" y2="797.5" stroke="#444" stroke-width="1.1"/>
<line x1="1147" y1="801.0" x2="1162" y2="803.0" stroke="#444" stroke-width="1.1"/>
<path d="M1138,850 C1138,865 1146,877 1154,877 C1162,877 1168,868 1168,858" fill="#fff" stroke="#111" stroke-width="1.8" stroke-linejoin="round" stroke-linecap="round"/>
<path d="M1107,824 L1125,822 L1132,810 L1204,851 C1206,862 1200,875 1190,878 L1181,878 L1108,837 Z" fill="#fff" stroke="#111" stroke-width="2" stroke-linejoin="round" stroke-linecap="round"/>
<line x1="1108" y1="826" x2="1181" y2="868" stroke="#111" stroke-width="1.6"/>
<line x1="1181" y1="868" x2="1181" y2="878" stroke="#111" stroke-width="1.5"/>
<ellipse cx="1154" cy="849" rx="6" ry="4" transform="rotate(20 1154 849)" fill="none" stroke="#111" stroke-width="1.4" />
<line x1="1148.1" y1="931.5" x2="1182.1" y2="913.5" stroke="#111" stroke-width="2"/>
<line x1="1135.9" y1="908.5" x2="1169.9" y2="890.5" stroke="#111" stroke-width="2"/>
<ellipse cx="1142" cy="920" rx="7.8" ry="13" transform="rotate(-27.9 1142 920)" fill="none" stroke="#111" stroke-width="2" />
<ellipse cx="1142" cy="920" rx="9" ry="13" transform="rotate(-30 1142 920)" fill="#fff" stroke="#111" stroke-width="2" />
<ellipse cx="1143" cy="920" rx="5" ry="8" transform="rotate(-30 1143 920)" fill="none" stroke="#444" stroke-width="1.3" />
<path d="M1145,909 L1145,887 C1150,883 1158,883 1162,887 L1162,905" fill="#fff" stroke="#111" stroke-width="1.8" stroke-linejoin="round" stroke-linecap="round"/>
<ellipse cx="1153.5" cy="887" rx="8.5" ry="3" transform="rotate(0 1153.5 887)" fill="none" stroke="#111" stroke-width="1.4" />
<polyline points="1169.9,890.5 1170.4,890.3 1170.9,890.1 1171.5,890.1 1172.1,890.1 1172.7,890.1 1173.4,890.3 1174.0,890.5 1174.7,890.8 1175.4,891.1 1176.1,891.6 1176.7,892.0 1177.4,892.6 1178.1,893.2 1178.7,893.9 1179.4,894.6 1180.0,895.3 1180.6,896.1 1181.1,897.0 1181.7,897.8 1182.2,898.7 1182.6,899.6 1183.1,900.5 1183.4,901.5 1183.8,902.4 1184.0,903.4 1184.3,904.3 1184.5,905.2 1184.6,906.1 1184.7,907.0 1184.7,907.8 1184.7,908.6 1184.6,909.4 1184.4,910.1 1184.2,910.7 1184.0,911.3 1183.7,911.9 1183.4,912.4 1183.0,912.8 1182.6,913.2 1182.1,913.5" fill="none" stroke="#111" stroke-width="2" stroke-linejoin="round"/>
<path d="M1210,797 L1228,797 L1228,808 L1226,810 L1260,851 L1261,867 L1264,880 L1300,950 C1305,960 1296,968 1290,966 L1274,940 L1240,883 L1220,869 L1210,824 Z" fill="#fff" stroke="#111" stroke-width="2" stroke-linejoin="round" stroke-linecap="round"/>
<ellipse cx="1199" cy="813" rx="12" ry="17" transform="rotate(-25 1199 813)" fill="#fff" stroke="#111" stroke-width="2" />
<line x1="1220" y1="830" x2="1238" y2="878" stroke="#444" stroke-width="1.3"/>
<line x1="1226" y1="828" x2="1244" y2="874" stroke="#444" stroke-width="1.3"/>
<line x1="1246" y1="880" x2="1290" y2="955" stroke="#444" stroke-width="1.4"/>
<polyline points="1226,870 1262,856" fill="none" stroke="#666" stroke-width="1.3" stroke-linejoin="round"/>
<path d="M1657,1496 L1640,1547 L1642,1587 L1645,1617 L1660,1666 L1682,1720 L1692,1740 L1662,1725 L1695,1798 L1749,1775 C1790,1800 1840,1838 1900,1840 C1950,1838 1985,1790 1996,1735 C2001,1700 1995,1660 1983,1640 C1975,1615 1968,1598 1961,1582 L1976,1550 L1974,1530 L1949,1458 L1941,1444 L1934,1436 L1781,1404 L1768,1399 Z" fill="#fff" stroke="#111" stroke-width="2.2" stroke-linejoin="round" stroke-linecap="round"/>
<path d="M1974,1640 C1985,1660 1990,1690 1988,1711 C1986,1745 1975,1775 1941,1827" fill="none" stroke="#555" stroke-width="1.3" stroke-linejoin="round" stroke-linecap="round"/>
<line x1="1988" y1="1763" x2="2032" y2="1801" stroke="#111" stroke-width="1.6"/>
<polyline points="1657,1481 1681,1453 1681,1446 1736,1372 1768,1355 1803,1337 1815,1350 1815,1369 1793,1392 1781,1404" fill="#fff" stroke="#111" stroke-width="2.2" stroke-linejoin="round"/>
<polyline points="1700,1440 1745,1380 1770,1370" fill="none" stroke="#555" stroke-width="1.3" stroke-linejoin="round"/>
<polyline points="1772,1360 1800,1346 1810,1355 1782,1372" fill="none" stroke="#444" stroke-width="1.3" stroke-linejoin="round"/>
<polyline points="1785,1380 1810,1366" fill="none" stroke="#444" stroke-width="1.3" stroke-linejoin="round"/>
<polyline points="1652,1486 1637,1491 1640,1508 1657,1504" fill="none" stroke="#111" stroke-width="1.6" stroke-linejoin="round"/>
<line x1="1781" y1="1404" x2="1934" y2="1436" stroke="#111" stroke-width="3"/>
<polyline points="1934,1453 1939,1478 1931,1493 1949,1562 1946,1577" fill="none" stroke="#111" stroke-width="1.6" stroke-linejoin="round"/>
<line x1="1941" y1="1582" x2="1818" y2="1649" stroke="#111" stroke-width="1.8"/>
<line x1="1941" y1="1582" x2="1966" y2="1570" stroke="#111" stroke-width="1.6"/>
<polyline points="1657,1496 1795,1512" fill="none" stroke="#111" stroke-width="1.8" stroke-linejoin="round"/>
<line x1="1704" y1="1498" x2="1731" y2="1466" stroke="#111" stroke-width="1.8"/>
<line x1="1749" y1="1505" x2="1776" y2="1471" stroke="#111" stroke-width="1.8"/>
<polyline points="1793,1510 1818,1475 1831,1524" fill="none" stroke="#444" stroke-width="1.5" stroke-linejoin="round"/>
<polyline points="1676,1500 1680,1530 1708,1532 1710,1504" fill="none" stroke="#555" stroke-width="1.4" stroke-linejoin="round"/>
<polyline points="1762,1508 1765,1520 1790,1520 1792,1512" fill="none" stroke="#555" stroke-width="1.4" stroke-linejoin="round"/>
<path d="M1690,1445 C1740,1440 1790,1455 1795,1462" fill="none" stroke="#777" stroke-width="1.2" stroke-linejoin="round" stroke-linecap="round"/>
<path d="M1835,1455 C1870,1470 1900,1490 1915,1510" fill="none" stroke="#888" stroke-width="1.2" stroke-linejoin="round" stroke-linecap="round"/>
<polyline points="1642,1562 1634,1575 1642,1587" fill="none" stroke="#111" stroke-width="1.5" stroke-linejoin="round"/>
<polyline points="1645,1617 1640,1630 1650,1640" fill="none" stroke="#111" stroke-width="1.5" stroke-linejoin="round"/>
<path d="M1790,1605 C1815,1608 1830,1650 1822,1690 C1815,1715 1790,1722 1770,1705" fill="none" stroke="#111" stroke-width="1.8" stroke-linejoin="round" stroke-linecap="round"/>
<path d="M1778,1603 C1760,1610 1755,1650 1765,1690" fill="none" stroke="#555" stroke-width="1.3" stroke-linejoin="round" stroke-linecap="round"/>
<line x1="1638" y1="1691" x2="1872" y2="1557" stroke="#111" stroke-width="1.8"/>
<line x1="1622" y1="1752" x2="1798" y2="1651" stroke="#111" stroke-width="1.8"/>
<line x1="1596" y1="1574" x2="1676" y2="1527" stroke="#111" stroke-width="1.8"/>
<line x1="1883.9" y1="1560.7" x2="1936.9" y2="1530.7" stroke="#111" stroke-width="1.8"/>
<line x1="1874.1" y1="1543.3" x2="1927.1" y2="1513.3" stroke="#111" stroke-width="1.8"/>
<ellipse cx="1879" cy="1552" rx="7.0" ry="10" transform="rotate(-29.5 1879 1552)" fill="none" stroke="#111" stroke-width="1.8" />
<ellipse cx="1879" cy="1552" rx="4" ry="6" transform="rotate(-30 1879 1552)" fill="none" stroke="#111" stroke-width="1.3" />
<polyline points="1662,1725 1694,1792" fill="none" stroke="#111" stroke-width="1.8" stroke-linejoin="round"/>
<line x1="1672" y1="1720" x2="1700" y2="1785" stroke="#666" stroke-width="1.2"/>
<polyline points="1700,1706 1749,1680 1790,1690" fill="none" stroke="#111" stroke-width="1.6" stroke-linejoin="round"/>
<path d="M1835,1696 L1968,1762 C1973,1766 1970,1770 1964,1768 L1832,1702 Z" fill="none" stroke="#111" stroke-width="1.6" stroke-linejoin="round" stroke-linecap="round"/>
<path d="M1800,1725 L1868,1815 C1871,1820 1866,1822 1863,1818 L1795,1728 Z" fill="none" stroke="#111" stroke-width="1.6" stroke-linejoin="round" stroke-linecap="round"/>
<ellipse cx="1432" cy="1478" rx="28.3" ry="20.2" transform="rotate(64.3 1432 1478)" fill="#fff" stroke="#111" stroke-width="2" />
<ellipse cx="1431" cy="1476" rx="14.2" ry="8.7" transform="rotate(77.4 1431 1476)" fill="none" stroke="#111" stroke-width="1.6" />
<path d="M1382,1489 L1397,1484 C1405,1488 1408,1500 1405,1512 L1390,1520 C1383,1516 1379,1500 1382,1489 Z" fill="#fff" stroke="#111" stroke-width="2" stroke-linejoin="round" stroke-linecap="round"/>
<line x1="1365.1" y1="1522.8" x2="1390.1" y2="1509.8" stroke="#111" stroke-width="1.8"/>
<line x1="1354.9" y1="1503.2" x2="1379.9" y2="1490.2" stroke="#111" stroke-width="1.8"/>
<ellipse cx="1360" cy="1513" rx="6.1" ry="11" transform="rotate(-27.5 1360 1513)" fill="none" stroke="#111" stroke-width="1.8" />
<line x1="1364" y1="1502.0" x2="1369" y2="1523.0" stroke="#444" stroke-width="1.1"/>
<line x1="1369" y1="1499.5" x2="1374" y2="1520.5" stroke="#444" stroke-width="1.1"/>
<line x1="1374" y1="1497.0" x2="1379" y2="1518.0" stroke="#444" stroke-width="1.1"/>
<line x1="1379" y1="1494.5" x2="1384" y2="1515.5" stroke="#444" stroke-width="1.1"/>
<ellipse cx="1547" cy="1602" rx="8" ry="11" transform="rotate(-30 1547 1602)" fill="#fff" stroke="#111" stroke-width="1.8" />
<ellipse cx="1547" cy="1602" rx="4" ry="6" transform="rotate(-30 1547 1602)" fill="none" stroke="#111" stroke-width="1.2" />
<line x1="1558.0" y1="1603.2" x2="1593.0" y2="1583.2" stroke="#111" stroke-width="1.6"/>
<line x1="1552.0" y1="1592.8" x2="1587.0" y2="1572.8" stroke="#111" stroke-width="1.6"/>
<line x1="1557.0" y1="1590.0" x2="1562.0" y2="1604.0" stroke="#333" stroke-width="1.2"/>
<line x1="1562.5" y1="1586.9" x2="1567.5" y2="1600.9" stroke="#333" stroke-width="1.2"/>
<line x1="1568.0" y1="1583.8" x2="1573.0" y2="1597.8" stroke="#333" stroke-width="1.2"/>
<line x1="1573.5" y1="1580.7" x2="1578.5" y2="1594.7" stroke="#333" stroke-width="1.2"/>
<line x1="1579.0" y1="1577.6" x2="1584.0" y2="1591.6" stroke="#333" stroke-width="1.2"/>
<line x1="1584.5" y1="1574.5" x2="1589.5" y2="1588.5" stroke="#333" stroke-width="1.2"/>
<line x1="1613.1" y1="1713.4" x2="1637.1" y2="1703.4" stroke="#111" stroke-width="1.8"/>
<line x1="1606.9" y1="1698.6" x2="1630.9" y2="1688.6" stroke="#111" stroke-width="1.8"/>
<ellipse cx="1634" cy="1696" rx="4.0" ry="8" transform="rotate(-22.6 1634 1696)" fill="none" stroke="#111" stroke-width="1.8" />
<line x1="1614" y1="1697.0" x2="1618" y2="1714.0" stroke="#444" stroke-width="1.1"/>
<line x1="1619" y1="1694.8" x2="1623" y2="1711.8" stroke="#444" stroke-width="1.1"/>
<line x1="1624" y1="1692.6" x2="1628" y2="1709.6" stroke="#444" stroke-width="1.1"/>
<line x1="1629" y1="1690.4" x2="1633" y2="1707.4" stroke="#444" stroke-width="1.1"/>
<path d="M1591,1697 L1606,1694 L1615,1705 L1614,1722 L1604,1731 L1590,1728 L1584,1714 Z" fill="#fff" stroke="#111" stroke-width="1.8" stroke-linejoin="round" stroke-linecap="round"/>
<line x1="1600" y1="1696" x2="1604" y2="1730" stroke="#555" stroke-width="1.2"/>
<line x1="1591" y1="1697" x2="1597" y2="1713" stroke="#666" stroke-width="1.1"/>
<line x1="1597" y1="1713" x2="1604" y2="1731" stroke="#666" stroke-width="1.1"/>
<path d="M1555,1746 L1590,1732 C1610,1730 1622,1750 1622,1770 C1622,1790 1610,1800 1595,1798 L1570,1795 C1562,1790 1558,1775 1560,1762 Z" fill="#fff" stroke="#111" stroke-width="2" stroke-linejoin="round" stroke-linecap="round"/>
<ellipse cx="1578" cy="1775" rx="16" ry="23" transform="rotate(-25 1578 1775)" fill="#fff" stroke="#111" stroke-width="1.8" />
<path d="M1548,1752 C1545,1760 1550,1768 1560,1766" fill="none" stroke="#111" stroke-width="1.6" stroke-linejoin="round" stroke-linecap="round"/>
<ellipse cx="1553" cy="1760" rx="4" ry="5" transform="rotate(-25 1553 1760)" fill="none" stroke="#111" stroke-width="1.3" />
<polyline points="1591.0,1741.3 1591.9,1741.5 1592.8,1741.9 1593.7,1742.3 1594.6,1742.9 1595.6,1743.5 1596.5,1744.2 1597.5,1745.0 1598.4,1745.9 1599.4,1746.8 1600.4,1747.8 1601.3,1748.9 1602.2,1750.0 1603.2,1751.2 1604.1,1752.5 1604.9,1753.8 1605.8,1755.2 1606.6,1756.6 1607.4,1758.0 1608.2,1759.4 1608.9,1760.9 1609.6,1762.4 1610.2,1763.9 1610.8,1765.5 1611.3,1767.0 1611.8,1768.5 1612.2,1770.0 1612.6,1771.5 1613.0,1773.0 1613.2,1774.5 1613.5,1775.9 1613.6,1777.3 1613.7,1778.6 1613.8,1779.9 1613.7,1781.1 1613.7,1782.3 1613.5,1783.5 1613.4,1784.5 1613.1,1785.5 1612.8,1786.4 1612.4,1787.3" fill="none" stroke="#555" stroke-width="1.1" stroke-linejoin="round"/>
<polyline points="1596.0,1739.3 1596.9,1739.5 1597.8,1739.9 1598.7,1740.3 1599.6,1740.9 1600.6,1741.5 1601.5,1742.2 1602.5,1743.0 1603.4,1743.9 1604.4,1744.8 1605.4,1745.8 1606.3,1746.9 1607.2,1748.0 1608.2,1749.2 1609.1,1750.5 1609.9,1751.8 1610.8,1753.2 1611.6,1754.6 1612.4,1756.0 1613.2,1757.4 1613.9,1758.9 1614.6,1760.4 1615.2,1761.9 1615.8,1763.5 1616.3,1765.0 1616.8,1766.5 1617.2,1768.0 1617.6,1769.5 1618.0,1771.0 1618.2,1772.5 1618.5,1773.9 1618.6,1775.3 1618.7,1776.6 1618.8,1777.9 1618.7,1779.1 1618.7,1780.3 1618.5,1781.5 1618.4,1782.5 1618.1,1783.5 1617.8,1784.4 1617.4,1785.3" fill="none" stroke="#555" stroke-width="1.1" stroke-linejoin="round"/>
<polyline points="1601.0,1737.3 1601.9,1737.5 1602.8,1737.9 1603.7,1738.3 1604.6,1738.9 1605.6,1739.5 1606.5,1740.2 1607.5,1741.0 1608.4,1741.9 1609.4,1742.8 1610.4,1743.8 1611.3,1744.9 1612.2,1746.0 1613.2,1747.2 1614.1,1748.5 1614.9,1749.8 1615.8,1751.2 1616.6,1752.6 1617.4,1754.0 1618.2,1755.4 1618.9,1756.9 1619.6,1758.4 1620.2,1759.9 1620.8,1761.5 1621.3,1763.0 1621.8,1764.5 1622.2,1766.0 1622.6,1767.5 1623.0,1769.0 1623.2,1770.5 1623.5,1771.9 1623.6,1773.3 1623.7,1774.6 1623.8,1775.9 1623.7,1777.1 1623.7,1778.3 1623.5,1779.5 1623.4,1780.5 1623.1,1781.5 1622.8,1782.4 1622.4,1783.3" fill="none" stroke="#555" stroke-width="1.1" stroke-linejoin="round"/>
<ellipse cx="1485" cy="1804" rx="11" ry="13" transform="rotate(-25 1485 1804)" fill="#fff" stroke="#111" stroke-width="1.8" />
<ellipse cx="1485" cy="1804" rx="5" ry="6" transform="rotate(-25 1485 1804)" fill="none" stroke="#111" stroke-width="1.2" />
<line x1="1498.7" y1="1805.1" x2="1547.7" y2="1779.1" stroke="#111" stroke-width="1.6"/>
<line x1="1491.3" y1="1790.9" x2="1540.3" y2="1764.9" stroke="#111" stroke-width="1.6"/>
<ellipse cx="1544" cy="1772" rx="4.0" ry="8" transform="rotate(-28.0 1544 1772)" fill="none" stroke="#111" stroke-width="1.6" />
<line x1="1495" y1="1790" x2="1500" y2="1806" stroke="#111" stroke-width="1.4"/>
<line x1="1512" y1="1781.0" x2="1517" y2="1798.0" stroke="#444" stroke-width="1.1"/>
<line x1="1517" y1="1778.3" x2="1522" y2="1795.3" stroke="#444" stroke-width="1.1"/>
<line x1="1522" y1="1775.6" x2="1527" y2="1792.6" stroke="#444" stroke-width="1.1"/>
<line x1="1527" y1="1772.9" x2="1532" y2="1789.9" stroke="#444" stroke-width="1.1"/>
<line x1="1532" y1="1770.2" x2="1537" y2="1787.2" stroke="#444" stroke-width="1.1"/>
<line x1="1537" y1="1767.5" x2="1542" y2="1784.5" stroke="#444" stroke-width="1.1"/>
<ellipse cx="1636" cy="1813" rx="8" ry="11" transform="rotate(-30 1636 1813)" fill="#fff" stroke="#111" stroke-width="1.8" />
<ellipse cx="1636" cy="1813" rx="4" ry="6" transform="rotate(-30 1636 1813)" fill="none" stroke="#111" stroke-width="1.2" />
<line x1="1646.9" y1="1813.2" x2="1680.9" y2="1794.2" stroke="#111" stroke-width="1.6"/>
<line x1="1641.1" y1="1802.8" x2="1675.1" y2="1783.8" stroke="#111" stroke-width="1.6"/>
<line x1="1646.0" y1="1800.0" x2="1651.0" y2="1814.0" stroke="#333" stroke-width="1.2"/>
<line x1="1651.5" y1="1796.9" x2="1656.5" y2="1810.9" stroke="#333" stroke-width="1.2"/>
<line x1="1657.0" y1="1793.8" x2="1662.0" y2="1807.8" stroke="#333" stroke-width="1.2"/>
<line x1="1662.5" y1="1790.7" x2="1667.5" y2="1804.7" stroke="#333" stroke-width="1.2"/>
<line x1="1668.0" y1="1787.6" x2="1673.0" y2="1801.6" stroke="#333" stroke-width="1.2"/>
<line x1="1673.5" y1="1784.5" x2="1678.5" y2="1798.5" stroke="#333" stroke-width="1.2"/>
<line x1="817.6" y1="1518.1" x2="833.6" y2="1509.6" stroke="#111" stroke-width="1.8"/>
<line x1="804.4" y1="1493.3" x2="820.4" y2="1484.8" stroke="#111" stroke-width="1.8"/>
<ellipse cx="811" cy="1505.7" rx="7.7" ry="14" transform="rotate(-28.0 811 1505.7)" fill="none" stroke="#111" stroke-width="1.8" />
<polyline points="820.4,1484.8 821.0,1484.6 821.6,1484.4 822.3,1484.3 822.9,1484.3 823.6,1484.3 824.4,1484.5 825.1,1484.7 825.8,1485.0 826.6,1485.4 827.3,1485.8 828.1,1486.3 828.9,1486.9 829.6,1487.5 830.3,1488.2 831.0,1489.0 831.7,1489.8 832.3,1490.7 832.9,1491.6 833.5,1492.5 834.1,1493.4 834.6,1494.4 835.0,1495.4 835.4,1496.4 835.7,1497.4 836.0,1498.5 836.3,1499.5 836.5,1500.5 836.6,1501.4 836.6,1502.4 836.6,1503.3 836.6,1504.2 836.5,1505.0 836.3,1505.8 836.1,1506.5 835.8,1507.2 835.4,1507.8 835.0,1508.3 834.6,1508.8 834.1,1509.2 833.6,1509.6" fill="none" stroke="#111" stroke-width="1.8" stroke-linejoin="round"/>
<ellipse cx="811" cy="1505.7" rx="8" ry="14" transform="rotate(-28 811 1505.7)" fill="#fff" stroke="#111" stroke-width="1.8" />
<line x1="855.6" y1="1497.1" x2="871.6" y2="1488.6" stroke="#111" stroke-width="1.8"/>
<line x1="842.4" y1="1472.3" x2="858.4" y2="1463.8" stroke="#111" stroke-width="1.8"/>
<ellipse cx="849" cy="1484.7" rx="7.7" ry="14" transform="rotate(-28.0 849 1484.7)" fill="none" stroke="#111" stroke-width="1.8" />
<polyline points="858.4,1463.8 859.0,1463.6 859.6,1463.4 860.3,1463.3 860.9,1463.3 861.6,1463.3 862.4,1463.5 863.1,1463.7 863.8,1464.0 864.6,1464.4 865.3,1464.8 866.1,1465.3 866.9,1465.9 867.6,1466.5 868.3,1467.2 869.0,1468.0 869.7,1468.8 870.3,1469.7 870.9,1470.6 871.5,1471.5 872.1,1472.4 872.6,1473.4 873.0,1474.4 873.4,1475.4 873.7,1476.4 874.0,1477.5 874.3,1478.5 874.5,1479.5 874.6,1480.4 874.6,1481.4 874.6,1482.3 874.6,1483.2 874.5,1484.0 874.3,1484.8 874.1,1485.5 873.8,1486.2 873.4,1486.8 873.0,1487.3 872.6,1487.8 872.1,1488.2 871.6,1488.6" fill="none" stroke="#111" stroke-width="1.8" stroke-linejoin="round"/>
<ellipse cx="849" cy="1484.7" rx="8" ry="14" transform="rotate(-28 849 1484.7)" fill="#fff" stroke="#111" stroke-width="1.8" />
</svg></body></html>
